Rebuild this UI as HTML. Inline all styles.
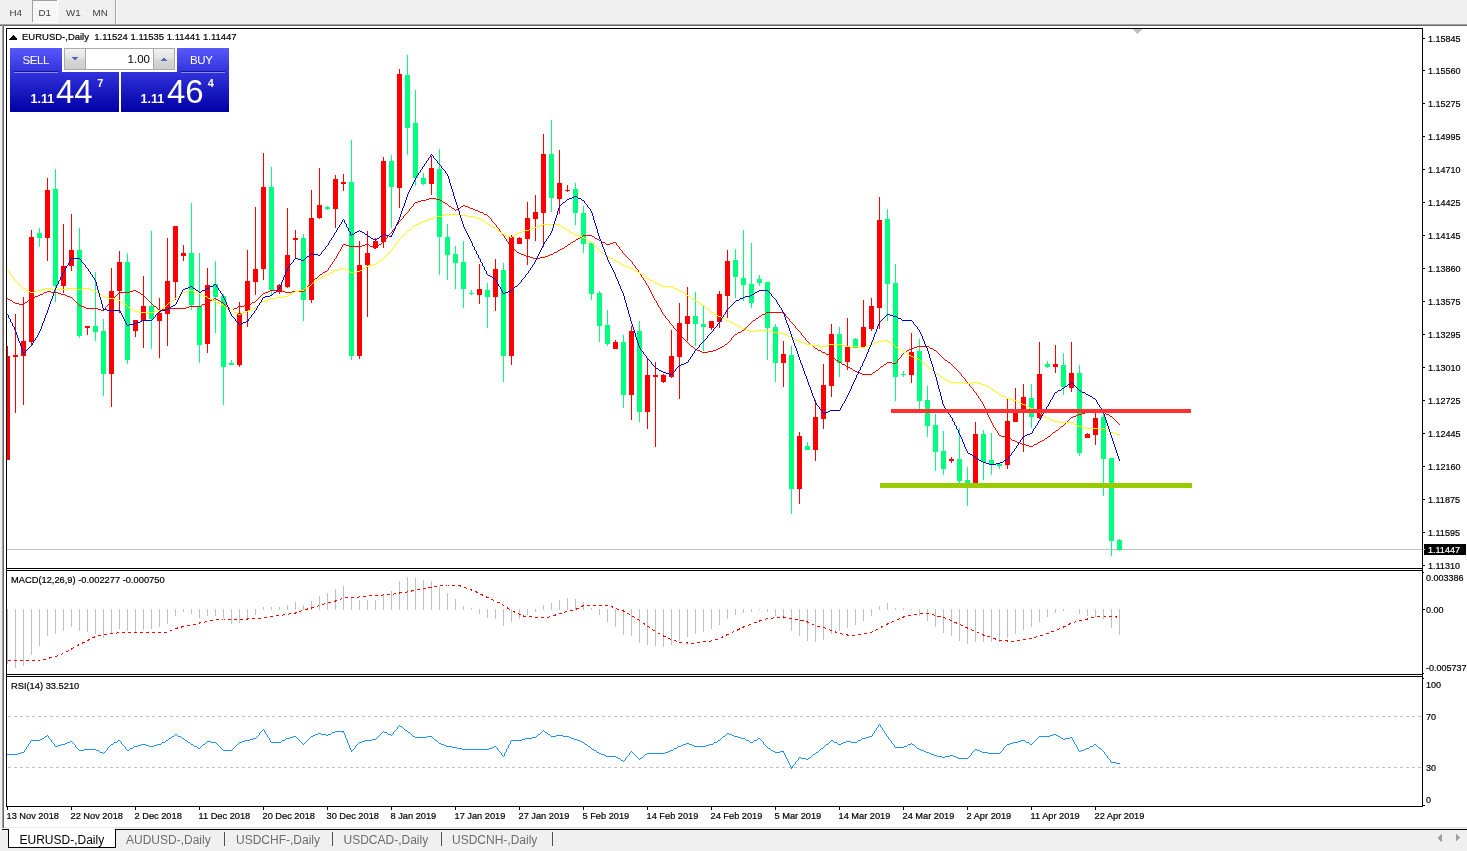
<!DOCTYPE html>
<html><head><meta charset="utf-8"><title>EURUSD-,Daily</title>
<style>
html,body{margin:0;padding:0;background:#fff;overflow:hidden}
body{width:1467px;height:851px;position:relative}
svg{position:absolute;left:0;top:0;display:block}
svg text{font-family:"Liberation Sans",sans-serif;}
.tk text{stroke-width:0.35px}
.g{shape-rendering:crispEdges}
</style></head><body>
<svg width="1467" height="851" viewBox="0 0 1467 851">
<g class="g">
<rect x="0" y="0" width="1467" height="24" fill="#f0f0f0"/>
<rect x="0" y="24" width="2" height="827" fill="#f0f0f0"/>
<rect x="0" y="24" width="1467" height="1" fill="#a0a0a0"/>
<rect x="0" y="25" width="1467" height="1" fill="#696969"/>
<rect x="2" y="24" width="1" height="804" fill="#a0a0a0"/>
<rect x="3" y="25" width="1" height="803" fill="#696969"/>
<pattern id="ck" width="2" height="2" patternUnits="userSpaceOnUse"><rect width="2" height="2" fill="#f0f0f0"/><rect width="1" height="1" fill="#fff"/><rect x="1" y="1" width="1" height="1" fill="#fff"/></pattern>
<rect x="33" y="1" width="24" height="21" fill="url(#ck)"/>
<rect x="32" y="0" width="25" height="1" fill="#a0a0a0"/>
<rect x="32" y="0" width="1" height="22" fill="#a0a0a0"/>
<rect x="33" y="22" width="24" height="1" fill="#ffffff"/>
<rect x="57" y="0" width="1" height="23" fill="#ffffff"/>
<rect x="115" y="0" width="1" height="24" fill="#a0a0a0"/>
<rect x="116" y="0" width="1" height="24" fill="#ffffff"/>
<rect x="0" y="828" width="1467" height="23" fill="#f0f0f0"/>
<rect x="4" y="827" width="1463" height="1" fill="#e3e3e3"/>
<rect x="2" y="829" width="1465" height="1" fill="#000000"/>
<rect x="9" y="828" width="106" height="19" fill="#ffffff"/>
<rect x="8" y="829" width="1" height="19" fill="#000000"/>
<rect x="115" y="829" width="1" height="19" fill="#000000"/>
<rect x="8" y="847" width="108" height="1" fill="#000000"/>
<rect x="9" y="827" width="106" height="1" fill="#ececec"/>
<rect x="224" y="832" width="1" height="14" fill="#505050"/>
<rect x="332" y="832" width="1" height="14" fill="#505050"/>
<rect x="441" y="832" width="1" height="14" fill="#505050"/>
<rect x="552" y="832" width="1" height="14" fill="#505050"/>
<path d="M1441.5 834 L1441.5 841.5 L1437.5 837.75 Z" fill="#a0a0a0"/>
<path d="M1456 834 L1456 841.5 L1460 837.75 Z" fill="#a0a0a0"/>
<rect x="6" y="28" width="1417" height="1" fill="#000000"/>
<rect x="6" y="28" width="1" height="779" fill="#000000"/>
<rect x="1422" y="28" width="1" height="779" fill="#000000"/>
<rect x="6" y="568" width="1417" height="1" fill="#000000"/>
<rect x="6" y="570" width="1417" height="1" fill="#000000"/>
<rect x="6" y="674" width="1417" height="1" fill="#000000"/>
<rect x="6" y="676" width="1417" height="1" fill="#000000"/>
<rect x="6" y="806" width="1417" height="1" fill="#000000"/>
<rect x="1423" y="38" width="2" height="1" fill="#000000"/>
<rect x="1423" y="70" width="2" height="1" fill="#000000"/>
<rect x="1423" y="103" width="2" height="1" fill="#000000"/>
<rect x="1423" y="136" width="2" height="1" fill="#000000"/>
<rect x="1423" y="169" width="2" height="1" fill="#000000"/>
<rect x="1423" y="202" width="2" height="1" fill="#000000"/>
<rect x="1423" y="235" width="2" height="1" fill="#000000"/>
<rect x="1423" y="268" width="2" height="1" fill="#000000"/>
<rect x="1423" y="301" width="2" height="1" fill="#000000"/>
<rect x="1423" y="334" width="2" height="1" fill="#000000"/>
<rect x="1423" y="367" width="2" height="1" fill="#000000"/>
<rect x="1423" y="400" width="2" height="1" fill="#000000"/>
<rect x="1423" y="433" width="2" height="1" fill="#000000"/>
<rect x="1423" y="466" width="2" height="1" fill="#000000"/>
<rect x="1423" y="499" width="2" height="1" fill="#000000"/>
<rect x="1423" y="532" width="2" height="1" fill="#000000"/>
<rect x="1423" y="565" width="2" height="1" fill="#000000"/>
<rect x="1423" y="572" width="1" height="1" fill="#000000"/>
<rect x="1423" y="673" width="1" height="1" fill="#000000"/>
<rect x="1423" y="609" width="2" height="1" fill="#000000"/>
<rect x="1423" y="678" width="1" height="1" fill="#000000"/>
<rect x="1423" y="805" width="2" height="1" fill="#000000"/>
<rect x="7" y="807" width="1" height="3" fill="#000000"/>
<rect x="71" y="807" width="1" height="3" fill="#000000"/>
<rect x="135" y="807" width="1" height="3" fill="#000000"/>
<rect x="199" y="807" width="1" height="3" fill="#000000"/>
<rect x="263" y="807" width="1" height="3" fill="#000000"/>
<rect x="327" y="807" width="1" height="3" fill="#000000"/>
<rect x="391" y="807" width="1" height="3" fill="#000000"/>
<rect x="455" y="807" width="1" height="3" fill="#000000"/>
<rect x="519" y="807" width="1" height="3" fill="#000000"/>
<rect x="583" y="807" width="1" height="3" fill="#000000"/>
<rect x="647" y="807" width="1" height="3" fill="#000000"/>
<rect x="711" y="807" width="1" height="3" fill="#000000"/>
<rect x="775" y="807" width="1" height="3" fill="#000000"/>
<rect x="839" y="807" width="1" height="3" fill="#000000"/>
<rect x="903" y="807" width="1" height="3" fill="#000000"/>
<rect x="967" y="807" width="1" height="3" fill="#000000"/>
<rect x="1031" y="807" width="1" height="3" fill="#000000"/>
<rect x="1095" y="807" width="1" height="3" fill="#000000"/>
<clipPath id="c1"><rect x="7" y="29" width="1415" height="539"/></clipPath>
<g clip-path="url(#c1)">
<rect x="7" y="549" width="1415" height="1" fill="#c0c0c0"/>
<rect x="7" y="346" width="1" height="114" fill="#ff0000"/>
<rect x="5" y="356" width="5" height="104" fill="#ff0000"/>
<rect x="15" y="314" width="1" height="99" fill="#ff0000"/>
<rect x="13" y="355" width="5" height="2" fill="#ff0000"/>
<rect x="23" y="297" width="1" height="108" fill="#ff0000"/>
<rect x="21" y="341" width="5" height="15" fill="#ff0000"/>
<rect x="31" y="230" width="1" height="115" fill="#ff0000"/>
<rect x="29" y="237" width="5" height="105" fill="#ff0000"/>
<rect x="39" y="228" width="1" height="19" fill="#00ff7f"/>
<rect x="37" y="233" width="5" height="5" fill="#00ff7f"/>
<rect x="47" y="178" width="1" height="83" fill="#ff0000"/>
<rect x="45" y="190" width="5" height="48" fill="#ff0000"/>
<rect x="55" y="169" width="1" height="133" fill="#00ff7f"/>
<rect x="53" y="189" width="5" height="97" fill="#00ff7f"/>
<rect x="63" y="224" width="1" height="69" fill="#ff0000"/>
<rect x="61" y="266" width="5" height="20" fill="#ff0000"/>
<rect x="71" y="214" width="1" height="57" fill="#ff0000"/>
<rect x="69" y="250" width="5" height="16" fill="#ff0000"/>
<rect x="79" y="228" width="1" height="110" fill="#00ff7f"/>
<rect x="77" y="250" width="5" height="86" fill="#00ff7f"/>
<rect x="87" y="326" width="1" height="9" fill="#ff0000"/>
<rect x="85" y="326" width="5" height="2" fill="#ff0000"/>
<rect x="95" y="272" width="1" height="69" fill="#00ff7f"/>
<rect x="93" y="326" width="5" height="6" fill="#00ff7f"/>
<rect x="103" y="319" width="1" height="77" fill="#00ff7f"/>
<rect x="101" y="331" width="5" height="43" fill="#00ff7f"/>
<rect x="111" y="268" width="1" height="139" fill="#ff0000"/>
<rect x="109" y="291" width="5" height="83" fill="#ff0000"/>
<rect x="119" y="251" width="1" height="62" fill="#ff0000"/>
<rect x="117" y="262" width="5" height="29" fill="#ff0000"/>
<rect x="127" y="253" width="1" height="111" fill="#00ff7f"/>
<rect x="125" y="262" width="5" height="98" fill="#00ff7f"/>
<rect x="135" y="320" width="1" height="17" fill="#ff0000"/>
<rect x="133" y="320" width="5" height="11" fill="#ff0000"/>
<rect x="143" y="276" width="1" height="72" fill="#ff0000"/>
<rect x="141" y="306" width="5" height="15" fill="#ff0000"/>
<rect x="151" y="231" width="1" height="118" fill="#00ff7f"/>
<rect x="149" y="306" width="5" height="13" fill="#00ff7f"/>
<rect x="159" y="298" width="1" height="60" fill="#ff0000"/>
<rect x="157" y="313" width="5" height="8" fill="#ff0000"/>
<rect x="167" y="238" width="1" height="108" fill="#ff0000"/>
<rect x="165" y="281" width="5" height="33" fill="#ff0000"/>
<rect x="175" y="226" width="1" height="74" fill="#ff0000"/>
<rect x="173" y="226" width="5" height="56" fill="#ff0000"/>
<rect x="183" y="245" width="1" height="16" fill="#ff0000"/>
<rect x="181" y="253" width="5" height="3" fill="#ff0000"/>
<rect x="191" y="203" width="1" height="107" fill="#00ff7f"/>
<rect x="189" y="253" width="5" height="52" fill="#00ff7f"/>
<rect x="199" y="253" width="1" height="110" fill="#00ff7f"/>
<rect x="197" y="306" width="5" height="39" fill="#00ff7f"/>
<rect x="207" y="268" width="1" height="85" fill="#ff0000"/>
<rect x="205" y="285" width="5" height="59" fill="#ff0000"/>
<rect x="215" y="261" width="1" height="72" fill="#00ff7f"/>
<rect x="213" y="284" width="5" height="13" fill="#00ff7f"/>
<rect x="223" y="294" width="1" height="111" fill="#00ff7f"/>
<rect x="221" y="296" width="5" height="71" fill="#00ff7f"/>
<rect x="231" y="360" width="1" height="5" fill="#00ff7f"/>
<rect x="229" y="363" width="5" height="2" fill="#00ff7f"/>
<rect x="239" y="302" width="1" height="65" fill="#ff0000"/>
<rect x="237" y="313" width="5" height="52" fill="#ff0000"/>
<rect x="247" y="250" width="1" height="77" fill="#ff0000"/>
<rect x="245" y="281" width="5" height="30" fill="#ff0000"/>
<rect x="255" y="207" width="1" height="88" fill="#ff0000"/>
<rect x="253" y="269" width="5" height="13" fill="#ff0000"/>
<rect x="263" y="153" width="1" height="127" fill="#ff0000"/>
<rect x="261" y="187" width="5" height="82" fill="#ff0000"/>
<rect x="271" y="167" width="1" height="128" fill="#00ff7f"/>
<rect x="269" y="187" width="5" height="103" fill="#00ff7f"/>
<rect x="279" y="284" width="1" height="10" fill="#ff0000"/>
<rect x="277" y="285" width="5" height="7" fill="#ff0000"/>
<rect x="287" y="208" width="1" height="80" fill="#ff0000"/>
<rect x="285" y="255" width="5" height="32" fill="#ff0000"/>
<rect x="295" y="230" width="1" height="28" fill="#ff0000"/>
<rect x="293" y="238" width="5" height="2" fill="#ff0000"/>
<rect x="303" y="234" width="1" height="87" fill="#00ff7f"/>
<rect x="301" y="238" width="5" height="62" fill="#00ff7f"/>
<rect x="311" y="190" width="1" height="113" fill="#ff0000"/>
<rect x="309" y="218" width="5" height="82" fill="#ff0000"/>
<rect x="319" y="168" width="1" height="51" fill="#ff0000"/>
<rect x="317" y="205" width="5" height="13" fill="#ff0000"/>
<rect x="327" y="206" width="1" height="4" fill="#00ff7f"/>
<rect x="325" y="207" width="5" height="2" fill="#00ff7f"/>
<rect x="335" y="175" width="1" height="53" fill="#ff0000"/>
<rect x="333" y="179" width="5" height="30" fill="#ff0000"/>
<rect x="343" y="174" width="1" height="17" fill="#ff0000"/>
<rect x="341" y="182" width="5" height="2" fill="#ff0000"/>
<rect x="351" y="140" width="1" height="220" fill="#00ff7f"/>
<rect x="349" y="182" width="5" height="174" fill="#00ff7f"/>
<rect x="359" y="241" width="1" height="118" fill="#ff0000"/>
<rect x="357" y="265" width="5" height="91" fill="#ff0000"/>
<rect x="367" y="231" width="1" height="86" fill="#ff0000"/>
<rect x="365" y="253" width="5" height="12" fill="#ff0000"/>
<rect x="375" y="238" width="1" height="11" fill="#ff0000"/>
<rect x="373" y="241" width="5" height="7" fill="#ff0000"/>
<rect x="383" y="157" width="1" height="91" fill="#ff0000"/>
<rect x="381" y="161" width="5" height="81" fill="#ff0000"/>
<rect x="391" y="155" width="1" height="73" fill="#00ff7f"/>
<rect x="389" y="161" width="5" height="26" fill="#00ff7f"/>
<rect x="399" y="69" width="1" height="139" fill="#ff0000"/>
<rect x="397" y="74" width="5" height="114" fill="#ff0000"/>
<rect x="407" y="55" width="1" height="100" fill="#00ff7f"/>
<rect x="405" y="75" width="5" height="53" fill="#00ff7f"/>
<rect x="415" y="90" width="1" height="96" fill="#00ff7f"/>
<rect x="413" y="123" width="5" height="55" fill="#00ff7f"/>
<rect x="423" y="173" width="1" height="12" fill="#00ff7f"/>
<rect x="421" y="178" width="5" height="6" fill="#00ff7f"/>
<rect x="431" y="156" width="1" height="39" fill="#ff0000"/>
<rect x="429" y="168" width="5" height="16" fill="#ff0000"/>
<rect x="439" y="149" width="1" height="126" fill="#00ff7f"/>
<rect x="437" y="169" width="5" height="68" fill="#00ff7f"/>
<rect x="447" y="224" width="1" height="56" fill="#00ff7f"/>
<rect x="445" y="237" width="5" height="18" fill="#00ff7f"/>
<rect x="455" y="246" width="1" height="43" fill="#00ff7f"/>
<rect x="453" y="254" width="5" height="9" fill="#00ff7f"/>
<rect x="463" y="241" width="1" height="67" fill="#00ff7f"/>
<rect x="461" y="262" width="5" height="27" fill="#00ff7f"/>
<rect x="471" y="290" width="1" height="5" fill="#00ff7f"/>
<rect x="469" y="293" width="5" height="1" fill="#00ff7f"/>
<rect x="479" y="264" width="1" height="40" fill="#ff0000"/>
<rect x="477" y="289" width="5" height="6" fill="#ff0000"/>
<rect x="487" y="283" width="1" height="45" fill="#00ff7f"/>
<rect x="485" y="290" width="5" height="7" fill="#00ff7f"/>
<rect x="495" y="259" width="1" height="52" fill="#ff0000"/>
<rect x="493" y="269" width="5" height="28" fill="#ff0000"/>
<rect x="503" y="263" width="1" height="119" fill="#00ff7f"/>
<rect x="501" y="270" width="5" height="86" fill="#00ff7f"/>
<rect x="511" y="235" width="1" height="130" fill="#ff0000"/>
<rect x="509" y="237" width="5" height="119" fill="#ff0000"/>
<rect x="519" y="237" width="1" height="7" fill="#ff0000"/>
<rect x="517" y="238" width="5" height="6" fill="#ff0000"/>
<rect x="527" y="202" width="1" height="63" fill="#ff0000"/>
<rect x="525" y="218" width="5" height="21" fill="#ff0000"/>
<rect x="535" y="195" width="1" height="46" fill="#ff0000"/>
<rect x="533" y="212" width="5" height="7" fill="#ff0000"/>
<rect x="543" y="134" width="1" height="113" fill="#ff0000"/>
<rect x="541" y="154" width="5" height="59" fill="#ff0000"/>
<rect x="551" y="120" width="1" height="92" fill="#00ff7f"/>
<rect x="549" y="154" width="5" height="44" fill="#00ff7f"/>
<rect x="559" y="150" width="1" height="64" fill="#ff0000"/>
<rect x="557" y="183" width="5" height="16" fill="#ff0000"/>
<rect x="567" y="185" width="1" height="7" fill="#ff0000"/>
<rect x="565" y="190" width="5" height="1" fill="#ff0000"/>
<rect x="575" y="183" width="1" height="42" fill="#00ff7f"/>
<rect x="573" y="189" width="5" height="24" fill="#00ff7f"/>
<rect x="583" y="206" width="1" height="47" fill="#00ff7f"/>
<rect x="581" y="213" width="5" height="31" fill="#00ff7f"/>
<rect x="591" y="242" width="1" height="58" fill="#00ff7f"/>
<rect x="589" y="243" width="5" height="51" fill="#00ff7f"/>
<rect x="599" y="291" width="1" height="51" fill="#00ff7f"/>
<rect x="597" y="293" width="5" height="33" fill="#00ff7f"/>
<rect x="607" y="310" width="1" height="36" fill="#00ff7f"/>
<rect x="605" y="325" width="5" height="19" fill="#00ff7f"/>
<rect x="615" y="340" width="1" height="9" fill="#ff0000"/>
<rect x="613" y="342" width="5" height="7" fill="#ff0000"/>
<rect x="623" y="335" width="1" height="73" fill="#00ff7f"/>
<rect x="621" y="342" width="5" height="53" fill="#00ff7f"/>
<rect x="631" y="326" width="1" height="94" fill="#ff0000"/>
<rect x="629" y="331" width="5" height="64" fill="#ff0000"/>
<rect x="639" y="321" width="1" height="101" fill="#00ff7f"/>
<rect x="637" y="331" width="5" height="81" fill="#00ff7f"/>
<rect x="647" y="358" width="1" height="71" fill="#ff0000"/>
<rect x="645" y="375" width="5" height="37" fill="#ff0000"/>
<rect x="655" y="362" width="1" height="85" fill="#ff0000"/>
<rect x="653" y="375" width="5" height="2" fill="#ff0000"/>
<rect x="663" y="374" width="1" height="9" fill="#ff0000"/>
<rect x="661" y="375" width="5" height="7" fill="#ff0000"/>
<rect x="671" y="330" width="1" height="48" fill="#ff0000"/>
<rect x="669" y="356" width="5" height="21" fill="#ff0000"/>
<rect x="679" y="303" width="1" height="96" fill="#ff0000"/>
<rect x="677" y="323" width="5" height="34" fill="#ff0000"/>
<rect x="687" y="287" width="1" height="54" fill="#ff0000"/>
<rect x="685" y="316" width="5" height="8" fill="#ff0000"/>
<rect x="695" y="292" width="1" height="54" fill="#00ff7f"/>
<rect x="693" y="316" width="5" height="8" fill="#00ff7f"/>
<rect x="703" y="305" width="1" height="46" fill="#00ff7f"/>
<rect x="701" y="324" width="5" height="3" fill="#00ff7f"/>
<rect x="711" y="321" width="1" height="9" fill="#ff0000"/>
<rect x="709" y="321" width="5" height="7" fill="#ff0000"/>
<rect x="719" y="291" width="1" height="37" fill="#ff0000"/>
<rect x="717" y="294" width="5" height="28" fill="#ff0000"/>
<rect x="727" y="250" width="1" height="68" fill="#ff0000"/>
<rect x="725" y="261" width="5" height="35" fill="#ff0000"/>
<rect x="735" y="249" width="1" height="49" fill="#00ff7f"/>
<rect x="733" y="260" width="5" height="17" fill="#00ff7f"/>
<rect x="743" y="230" width="1" height="71" fill="#00ff7f"/>
<rect x="741" y="278" width="5" height="7" fill="#00ff7f"/>
<rect x="751" y="243" width="1" height="65" fill="#00ff7f"/>
<rect x="749" y="284" width="5" height="19" fill="#00ff7f"/>
<rect x="759" y="275" width="1" height="11" fill="#00ff7f"/>
<rect x="757" y="279" width="5" height="4" fill="#00ff7f"/>
<rect x="767" y="282" width="1" height="78" fill="#00ff7f"/>
<rect x="765" y="282" width="5" height="46" fill="#00ff7f"/>
<rect x="775" y="324" width="1" height="58" fill="#00ff7f"/>
<rect x="773" y="327" width="5" height="36" fill="#00ff7f"/>
<rect x="783" y="341" width="1" height="46" fill="#ff0000"/>
<rect x="781" y="354" width="5" height="9" fill="#ff0000"/>
<rect x="791" y="346" width="1" height="168" fill="#00ff7f"/>
<rect x="789" y="355" width="5" height="134" fill="#00ff7f"/>
<rect x="799" y="432" width="1" height="72" fill="#ff0000"/>
<rect x="797" y="436" width="5" height="53" fill="#ff0000"/>
<rect x="807" y="442" width="1" height="8" fill="#00ff7f"/>
<rect x="805" y="446" width="5" height="4" fill="#00ff7f"/>
<rect x="815" y="400" width="1" height="61" fill="#ff0000"/>
<rect x="813" y="417" width="5" height="33" fill="#ff0000"/>
<rect x="823" y="364" width="1" height="65" fill="#ff0000"/>
<rect x="821" y="385" width="5" height="34" fill="#ff0000"/>
<rect x="831" y="324" width="1" height="73" fill="#ff0000"/>
<rect x="829" y="334" width="5" height="52" fill="#ff0000"/>
<rect x="839" y="327" width="1" height="50" fill="#00ff7f"/>
<rect x="837" y="334" width="5" height="29" fill="#00ff7f"/>
<rect x="847" y="318" width="1" height="52" fill="#ff0000"/>
<rect x="845" y="346" width="5" height="16" fill="#ff0000"/>
<rect x="855" y="338" width="1" height="10" fill="#00ff7f"/>
<rect x="853" y="339" width="5" height="9" fill="#00ff7f"/>
<rect x="863" y="300" width="1" height="47" fill="#ff0000"/>
<rect x="861" y="327" width="5" height="20" fill="#ff0000"/>
<rect x="871" y="298" width="1" height="33" fill="#ff0000"/>
<rect x="869" y="306" width="5" height="23" fill="#ff0000"/>
<rect x="879" y="197" width="1" height="132" fill="#ff0000"/>
<rect x="877" y="220" width="5" height="88" fill="#ff0000"/>
<rect x="887" y="209" width="1" height="112" fill="#00ff7f"/>
<rect x="885" y="219" width="5" height="65" fill="#00ff7f"/>
<rect x="895" y="264" width="1" height="137" fill="#00ff7f"/>
<rect x="893" y="283" width="5" height="94" fill="#00ff7f"/>
<rect x="903" y="371" width="1" height="6" fill="#00ff7f"/>
<rect x="901" y="374" width="5" height="1" fill="#00ff7f"/>
<rect x="911" y="333" width="1" height="50" fill="#ff0000"/>
<rect x="909" y="352" width="5" height="23" fill="#ff0000"/>
<rect x="919" y="339" width="1" height="70" fill="#00ff7f"/>
<rect x="917" y="351" width="5" height="50" fill="#00ff7f"/>
<rect x="927" y="386" width="1" height="51" fill="#00ff7f"/>
<rect x="925" y="400" width="5" height="26" fill="#00ff7f"/>
<rect x="935" y="414" width="1" height="57" fill="#00ff7f"/>
<rect x="933" y="425" width="5" height="27" fill="#00ff7f"/>
<rect x="943" y="431" width="1" height="44" fill="#00ff7f"/>
<rect x="941" y="451" width="5" height="18" fill="#00ff7f"/>
<rect x="951" y="457" width="1" height="6" fill="#ff0000"/>
<rect x="949" y="459" width="5" height="2" fill="#ff0000"/>
<rect x="959" y="428" width="1" height="55" fill="#00ff7f"/>
<rect x="957" y="459" width="5" height="22" fill="#00ff7f"/>
<rect x="967" y="467" width="1" height="39" fill="#00ff7f"/>
<rect x="965" y="480" width="5" height="3" fill="#00ff7f"/>
<rect x="975" y="422" width="1" height="63" fill="#ff0000"/>
<rect x="973" y="434" width="5" height="49" fill="#ff0000"/>
<rect x="983" y="430" width="1" height="50" fill="#00ff7f"/>
<rect x="981" y="434" width="5" height="28" fill="#00ff7f"/>
<rect x="991" y="433" width="1" height="42" fill="#00ff7f"/>
<rect x="989" y="460" width="5" height="5" fill="#00ff7f"/>
<rect x="999" y="463" width="1" height="6" fill="#00ff7f"/>
<rect x="997" y="464" width="5" height="2" fill="#00ff7f"/>
<rect x="1007" y="399" width="1" height="70" fill="#ff0000"/>
<rect x="1005" y="421" width="5" height="44" fill="#ff0000"/>
<rect x="1015" y="388" width="1" height="34" fill="#ff0000"/>
<rect x="1013" y="410" width="5" height="12" fill="#ff0000"/>
<rect x="1023" y="384" width="1" height="68" fill="#ff0000"/>
<rect x="1021" y="397" width="5" height="14" fill="#ff0000"/>
<rect x="1031" y="384" width="1" height="44" fill="#00ff7f"/>
<rect x="1029" y="398" width="5" height="19" fill="#00ff7f"/>
<rect x="1039" y="342" width="1" height="77" fill="#ff0000"/>
<rect x="1037" y="374" width="5" height="44" fill="#ff0000"/>
<rect x="1047" y="361" width="1" height="7" fill="#00ff7f"/>
<rect x="1045" y="364" width="5" height="3" fill="#00ff7f"/>
<rect x="1055" y="345" width="1" height="28" fill="#ff0000"/>
<rect x="1053" y="364" width="5" height="3" fill="#ff0000"/>
<rect x="1063" y="353" width="1" height="42" fill="#00ff7f"/>
<rect x="1061" y="365" width="5" height="22" fill="#00ff7f"/>
<rect x="1071" y="342" width="1" height="50" fill="#ff0000"/>
<rect x="1069" y="373" width="5" height="15" fill="#ff0000"/>
<rect x="1079" y="365" width="1" height="91" fill="#00ff7f"/>
<rect x="1077" y="373" width="5" height="80" fill="#00ff7f"/>
<rect x="1087" y="433" width="1" height="5" fill="#ff0000"/>
<rect x="1085" y="434" width="5" height="4" fill="#ff0000"/>
<rect x="1095" y="413" width="1" height="32" fill="#ff0000"/>
<rect x="1093" y="418" width="5" height="17" fill="#ff0000"/>
<rect x="1103" y="409" width="1" height="87" fill="#00ff7f"/>
<rect x="1101" y="417" width="5" height="42" fill="#00ff7f"/>
<rect x="1111" y="458" width="1" height="98" fill="#00ff7f"/>
<rect x="1109" y="458" width="5" height="83" fill="#00ff7f"/>
<rect x="1119" y="539" width="1" height="12" fill="#00ff7f"/>
<rect x="1117" y="540" width="5" height="10" fill="#00ff7f"/>
<path d="M7 298.5h1M8 299.5h2M10 300.5h2M12 301.5h1M13 302.5h2M15 303.5h4M19 304.5h4M23 304.5h1M24 303.5h1M25 302.5h2M27 301.5h1M28 300.5h2M30 299.5h1M31 298.5h2M33 297.5h2M35 296.5h3M38 295.5h1M39 295.5h1M40 294.5h3M43 293.5h1M44 292.5h3M47 291.5h4M51 292.5h4M55 292.5h3M58 293.5h3M61 294.5h2M63 294.5h2M65 295.5h2M67 296.5h3M70 297.5h1M71 297.5h1M72 298.5h1M73 299.5h1M74 300.5h1M75 301.5h1M76 302.5h1M77 303.5h1M78 304.5h1M79 305.5h2M81 306.5h3M84 307.5h2M86 308.5h1M87 308.5h8M95 308.5h3M98 309.5h3M101 310.5h2M103.5 310v1M104.5 309v1M105.5 307v2M106.5 306v1M107.5 305v1M108.5 304v1M109.5 302v2M110.5 301v1M111 300.5h1M112 299.5h1M113 298.5h1M114 297.5h1M115 296.5h1M116 295.5h1M117 294.5h1M118 293.5h1M119 292.5h8M127 292.5h3M130 291.5h3M133 290.5h2M135 290.5h1M136 291.5h2M138 292.5h2M140 293.5h1M141 294.5h2M143 295.5h1M144 296.5h1M145 297.5h1M146 298.5h1M147 299.5h1M148 300.5h1M149 301.5h1M150 302.5h1M151 303.5h1M152 304.5h1M153 305.5h1M154 306.5h2M156 307.5h1M157 308.5h1M158 309.5h1M159 310.5h3M162 309.5h3M165 308.5h2M167 308.5h8M175 308.5h8M183 308.5h3M186 307.5h3M189 306.5h2M191 306.5h8M199 306.5h2M201 305.5h1M202 304.5h3M205 303.5h1M206 302.5h1M207 302.5h2M209 301.5h1M210 300.5h3M213 299.5h1M214 298.5h1M215 298.5h1M216 299.5h2M218 300.5h2M220 301.5h1M221 302.5h2M223 303.5h1M224 304.5h1M225 305.5h1M226 306.5h2M228 307.5h1M229 308.5h1M230 309.5h1M231 310.5h2M233 309.5h1M234 308.5h3M237 307.5h1M238 306.5h1M239 306.5h5M244 305.5h3M247 305.5h1M248 304.5h3M251 303.5h1M252 302.5h3M255 301.5h1M256 300.5h1M257 299.5h1M258 298.5h1M259 297.5h1M260 296.5h1M261 295.5h1M262 294.5h1M263 293.5h2M265 292.5h3M268 291.5h2M270 290.5h1M271 290.5h8M279 290.5h3M282 291.5h3M285 292.5h2M287 292.5h5M292 291.5h3M295 291.5h8M303.5 291v1M304.5 290v1M305.5 289v1M306.5 288v1M307.5 286v2M308.5 285v1M309.5 284v1M310.5 283v1M311 282.5h1M312 281.5h1M313 280.5h1M314 279.5h1M315 278.5h2M317 277.5h1M318 276.5h1M319 275.5h1M320 274.5h2M322 273.5h1M323 272.5h2M325 271.5h2M327.5 270v1M328.5 268v2M329.5 267v1M330.5 265v2M331.5 264v1M332.5 262v2M333.5 261v1M334.5 259v2M335.5 258v1M336.5 256v2M337.5 254v2M338.5 252v2M339.5 251v1M340.5 249v2M341.5 247v2M342.5 245v2M343 244.5h3M346 245.5h3M349 246.5h2M351 246.5h8M359 246.5h3M362 245.5h3M365 244.5h2M367 244.5h2M369 245.5h1M370 246.5h3M373 247.5h1M374 248.5h1M375 248.5h1M376 247.5h1M377 246.5h1M378 245.5h1M379 244.5h2M381 243.5h1M382 242.5h1M383.5 241v1M384.5 240v1M385.5 239v1M386.5 238v1M387.5 236v2M388.5 235v1M389.5 234v1M390.5 233v1M391.5 232v1M392.5 230v2M393.5 229v1M394.5 228v1M395.5 226v2M396.5 225v1M397.5 224v1M398.5 222v2M399.5 221v1M400.5 220v1M401.5 219v1M402.5 218v1M403.5 216v2M404.5 215v1M405.5 214v1M406.5 213v1M407.5 212v1M408.5 211v1M409.5 209v2M410.5 208v1M411.5 207v1M412.5 206v1M413.5 204v2M414.5 203v1M415 202.5h3M418 201.5h3M421 200.5h2M423 200.5h3M426 199.5h3M429 198.5h2M431 198.5h5M436 199.5h3M439 199.5h1M440 200.5h2M442 201.5h1M443 202.5h2M445 203.5h2M447 204.5h1M448 205.5h1M449 206.5h2M451 207.5h1M452 208.5h2M454 209.5h1M455 210.5h1M456 209.5h2M458 208.5h2M460 207.5h1M461 206.5h2M463 205.5h2M465 206.5h3M468 207.5h2M470 208.5h1M471 208.5h2M473 209.5h2M475 210.5h3M478 211.5h1M479 211.5h1M480 212.5h3M483 213.5h1M484 214.5h3M487.5 215v1M488.5 216v1M489.5 217v1M490.5 218v1M491.5 219v2M492.5 221v1M493.5 222v1M494.5 223v1M495.5 224v1M496.5 225v2M497.5 227v1M498.5 228v1M499.5 229v2M500.5 231v1M501.5 232v1M502.5 233v2M503.5 235v1M504.5 236v2M505.5 238v1M506.5 239v2M507.5 241v1M508.5 242v2M509.5 244v1M510.5 245v2M511 247.5h1M512 248.5h2M514 249.5h1M515 250.5h1M516 251.5h1M517 252.5h2M519 253.5h2M521 254.5h3M524 255.5h2M526 256.5h1M527 256.5h3M530 257.5h3M533 258.5h2M535 258.5h5M540 257.5h3M543 257.5h2M545 256.5h3M548 255.5h2M550 254.5h1M551 254.5h2M553 253.5h1M554 252.5h3M557 251.5h1M558 250.5h1M559 250.5h1M560 249.5h2M562 248.5h2M564 247.5h1M565 246.5h2M567 245.5h1M568 244.5h2M570 243.5h1M571 242.5h2M573 241.5h2M575 240.5h1M576 239.5h2M578 238.5h2M580 237.5h1M581 236.5h2M583 235.5h8M591 235.5h1M592 236.5h2M594 237.5h1M595 238.5h2M597 239.5h2M599 240.5h2M601 241.5h1M602 242.5h3M605 243.5h1M606 244.5h1M607 244.5h3M610 243.5h3M613 242.5h2M615.5 242v1M616.5 243v2M617.5 245v1M618.5 246v1M619.5 247v2M620.5 249v1M621.5 250v1M622.5 251v2M623 253.5h1M624 254.5h1M625 255.5h1M626 256.5h1M627 257.5h1M628 258.5h1M629 259.5h1M630 260.5h1M631.5 261v1M632.5 262v2M633.5 264v1M634.5 265v1M635.5 266v2M636.5 268v1M637.5 269v1M638.5 270v2M639.5 272v1M640.5 273v2M641.5 275v2M642.5 277v1M643.5 278v2M644.5 280v1M645.5 281v2M646.5 283v2M647.5 285v1M648.5 286v2M649.5 288v2M650.5 290v2M651.5 292v2M652.5 294v2M653.5 296v2M654.5 298v2M655.5 300v1M656.5 301v2M657.5 303v2M658.5 305v2M659.5 307v1M660.5 308v2M661.5 310v2M662.5 312v2M663.5 314v1M664.5 315v1M665.5 316v2M666.5 318v1M667.5 319v1M668.5 320v1M669.5 321v2M670.5 323v1M671.5 324v1M672.5 325v1M673.5 326v2M674.5 328v1M675.5 329v1M676.5 330v1M677.5 331v2M678.5 333v1M679 334.5h1M680 335.5h1M681 336.5h1M682 337.5h1M683 338.5h1M684 339.5h1M685 340.5h1M686 341.5h1M687 342.5h1M688 343.5h1M689 344.5h1M690 345.5h1M691 346.5h2M693 347.5h1M694 348.5h1M695 349.5h2M697 350.5h3M700 351.5h2M702 352.5h1M703 352.5h5M708 351.5h3M711 351.5h2M713 350.5h3M716 349.5h2M718 348.5h1M719 348.5h1M720 347.5h2M722 346.5h2M724 345.5h1M725 344.5h2M727.5 343v1M728.5 342v1M729.5 341v1M730.5 340v1M731.5 338v2M732.5 337v1M733.5 336v1M734.5 335v1M735 334.5h2M737 333.5h1M738 332.5h3M741 331.5h1M742 330.5h1M743 330.5h1M744 329.5h1M745 328.5h1M746 327.5h1M747 326.5h1M748 325.5h1M749 324.5h1M750 323.5h1M751 322.5h1M752 321.5h1M753 320.5h2M755 319.5h1M756 318.5h2M758 317.5h1M759 316.5h2M761 315.5h1M762 314.5h3M765 313.5h1M766 312.5h1M767 312.5h8M775 312.5h8M783.5 312v1M784.5 313v1M785.5 314v2M786.5 316v1M787.5 317v1M788.5 318v1M789.5 319v2M790.5 321v1M791.5 322v1M792.5 323v1M793.5 324v1M794.5 325v1M795.5 326v2M796.5 328v1M797.5 329v1M798.5 330v1M799.5 331v1M800.5 332v1M801.5 333v2M802.5 335v1M803.5 336v1M804.5 337v1M805.5 338v2M806.5 340v1M807 341.5h1M808 342.5h1M809 343.5h1M810 344.5h2M812 345.5h1M813 346.5h1M814 347.5h1M815 348.5h2M817 349.5h1M818 350.5h3M821 351.5h1M822 352.5h1M823 352.5h2M825 353.5h1M826 354.5h3M829 355.5h1M830 356.5h1M831 356.5h1M832 357.5h1M833 358.5h2M835 359.5h1M836 360.5h2M838 361.5h1M839 362.5h2M841 363.5h1M842 364.5h3M845 365.5h1M846 366.5h1M847 366.5h1M848 367.5h2M850 368.5h2M852 369.5h1M853 370.5h2M855 371.5h2M857 372.5h3M860 373.5h2M862 374.5h1M863 374.5h8M871 374.5h1M872 373.5h1M873 372.5h2M875 371.5h1M876 370.5h2M878 369.5h1M879 368.5h1M880 367.5h1M881 366.5h2M883 365.5h1M884 364.5h2M886 363.5h1M887 362.5h5M892 363.5h3M895.5 363v1M896.5 362v1M897.5 360v2M898.5 359v1M899.5 358v1M900.5 357v1M901.5 355v2M902.5 354v1M903 353.5h1M904 352.5h2M906 351.5h1M907 350.5h2M909 349.5h2M911 348.5h3M914 347.5h3M917 346.5h2M919 346.5h8M927 346.5h2M929 347.5h1M930 348.5h3M933 349.5h1M934 350.5h1M935 350.5h1M936 351.5h1M937 352.5h1M938 353.5h1M939 354.5h1M940 355.5h1M941 356.5h1M942 357.5h1M943 358.5h1M944 359.5h1M945 360.5h2M947 361.5h1M948 362.5h2M950 363.5h1M951 364.5h1M952 365.5h1M953 366.5h1M954 367.5h1M955 368.5h1M956 369.5h1M957 370.5h1M958 371.5h1M959.5 372v1M960.5 373v1M961.5 374v2M962.5 376v1M963.5 377v1M964.5 378v1M965.5 379v2M966.5 381v1M967.5 382v1M968.5 383v1M969.5 384v2M970.5 386v1M971.5 387v1M972.5 388v1M973.5 389v2M974.5 391v1M975.5 392v1M976.5 393v2M977.5 395v1M978.5 396v2M979.5 398v1M980.5 399v2M981.5 401v1M982.5 402v2M983.5 404v2M984.5 406v2M985.5 408v2M986.5 410v2M987.5 412v3M988.5 415v2M989.5 417v2M990.5 419v2M991.5 421v1M991.5 422v1M992.5 423v2M993.5 425v2M994.5 427v1M995.5 428v2M996.5 430v1M997.5 431v2M998.5 433v2M999 435.5h2M1001 436.5h5M1006 437.5h1M1007 437.5h1M1008 438.5h3M1011 439.5h1M1012 440.5h3M1015 441.5h2M1017 442.5h3M1020 443.5h2M1022 444.5h1M1023 444.5h3M1026 445.5h3M1029 446.5h2M1031 446.5h2M1033 445.5h1M1034 444.5h3M1037 443.5h1M1038 442.5h1M1039 442.5h1M1040 441.5h2M1042 440.5h2M1044 439.5h1M1045 438.5h2M1047 437.5h1M1048 436.5h2M1050 435.5h1M1051 434.5h1M1052 433.5h1M1053 432.5h2M1055 431.5h1M1056 430.5h2M1058 429.5h1M1059 428.5h1M1060 427.5h1M1061 426.5h2M1063 425.5h1M1064 424.5h1M1065 423.5h1M1066 422.5h1M1067 421.5h1M1068 420.5h1M1069 419.5h1M1070 418.5h1M1071 417.5h2M1073 416.5h3M1076 415.5h2M1078 414.5h1M1079 414.5h3M1082 413.5h3M1085 412.5h2M1087 412.5h5M1092 411.5h3M1095 411.5h4M1099 412.5h4M1103 412.5h2M1105 413.5h1M1106 414.5h3M1109 415.5h1M1110 416.5h1M1111 416.5h1M1112 417.5h1M1113 418.5h1M1114 419.5h1M1115 420.5h1M1116 421.5h1M1117 422.5h1M1118 423.5h1M1119 424.5h1" fill="none" stroke="#ff0000" stroke-width="1"/>
<path d="M7.5 270v1M8.5 271v1M9.5 272v2M10.5 274v1M11.5 275v1M12.5 276v1M13.5 277v2M14.5 279v1M15 280.5h1M16 281.5h1M17 282.5h1M18 283.5h1M19 284.5h1M20 285.5h1M21 286.5h1M22 287.5h1M23 288.5h2M25 289.5h1M26 290.5h3M29 291.5h1M30 292.5h1M31 292.5h3M34 291.5h3M37 290.5h2M39 290.5h3M42 289.5h3M45 288.5h2M47 288.5h5M52 289.5h3M55 289.5h8M63 289.5h4M67 288.5h4M71 288.5h5M76 289.5h3M79 289.5h4M83 288.5h4M87 288.5h2M89 289.5h2M91 290.5h3M94 291.5h1M95 291.5h1M96 292.5h2M98 293.5h1M99 294.5h2M101 295.5h2M103 296.5h3M106 297.5h3M109 298.5h2M111 298.5h3M114 299.5h3M117 300.5h2M119 300.5h1M120 301.5h1M121 302.5h2M123 303.5h1M124 304.5h2M126 305.5h1M127 306.5h1M128 307.5h2M130 308.5h2M132 309.5h1M133 310.5h2M135 311.5h4M139 312.5h4M143 312.5h8M151 312.5h3M154 311.5h3M157 310.5h2M159 310.5h1M160 309.5h1M161 308.5h2M163 307.5h1M164 306.5h2M166 305.5h1M167 304.5h1M168 303.5h1M169 302.5h2M171 301.5h1M172 300.5h2M174 299.5h1M175 298.5h1M176 297.5h1M177 296.5h2M179 295.5h1M180 294.5h2M182 293.5h1M183 292.5h3M186 291.5h3M189 290.5h2M191 290.5h2M193 291.5h2M195 292.5h3M198 293.5h1M199 293.5h1M200 294.5h3M203 295.5h1M204 296.5h3M207 297.5h1M208 298.5h3M211 299.5h1M212 300.5h3M215 301.5h1M216 302.5h3M219 303.5h1M220 304.5h3M223 305.5h1M224 306.5h2M226 307.5h1M227 308.5h2M229 309.5h2M231 310.5h2M233 311.5h1M234 312.5h3M237 313.5h1M238 314.5h1M239 314.5h2M241 313.5h2M243 312.5h3M246 311.5h1M247 311.5h1M248 310.5h3M251 309.5h1M252 308.5h3M255 307.5h1M256 306.5h2M258 305.5h1M259 304.5h1M260 303.5h1M261 302.5h2M263 301.5h2M265 300.5h3M268 299.5h2M270 298.5h1M271 298.5h5M276 297.5h3M279 297.5h4M283 296.5h4M287 296.5h1M288 295.5h2M290 294.5h2M292 293.5h1M293 292.5h2M295 291.5h4M299 290.5h4M303 290.5h1M304 289.5h1M305 288.5h2M307 287.5h1M308 286.5h2M310 285.5h1M311 284.5h1M312 283.5h1M313 282.5h2M315 281.5h1M316 280.5h2M318 279.5h1M319 278.5h2M321 277.5h1M322 276.5h3M325 275.5h1M326 274.5h1M327 274.5h2M329 273.5h1M330 272.5h3M333 271.5h1M334 270.5h1M335 270.5h3M338 269.5h3M341 268.5h2M343 268.5h2M345 269.5h1M346 270.5h3M349 271.5h1M350 272.5h1M351 272.5h5M356 271.5h3M359 271.5h1M360 270.5h2M362 269.5h1M363 268.5h2M365 267.5h2M367 266.5h3M370 265.5h3M373 264.5h2M375 264.5h1M376 263.5h1M377 262.5h2M379 261.5h1M380 260.5h2M382 259.5h1M383 258.5h1M384 257.5h1M385 256.5h1M386 255.5h1M387 254.5h1M388 253.5h1M389 252.5h1M390 251.5h1M391.5 250v1M392.5 248v2M393.5 247v1M394.5 246v1M395.5 244v2M396.5 243v1M397.5 242v1M398.5 240v2M399 239.5h1M400 238.5h1M401 237.5h1M402 236.5h1M403 235.5h1M404 234.5h1M405 233.5h1M406 232.5h1M407 231.5h1M408 230.5h2M410 229.5h1M411 228.5h1M412 227.5h1M413 226.5h2M415 225.5h1M416 224.5h3M419 223.5h1M420 222.5h3M423 221.5h2M425 220.5h3M428 219.5h2M430 218.5h1M431 218.5h3M434 217.5h3M437 216.5h2M439 216.5h3M442 215.5h3M445 214.5h2M447 214.5h8M455 214.5h5M460 215.5h3M463 215.5h4M467 216.5h4M471 216.5h3M474 217.5h3M477 218.5h2M479 218.5h1M480 219.5h2M482 220.5h2M484 221.5h1M485 222.5h2M487 223.5h1M488 224.5h2M490 225.5h1M491 226.5h2M493 227.5h2M495 228.5h1M496 229.5h1M497 230.5h2M499 231.5h1M500 232.5h2M502 233.5h1M503 234.5h2M505 235.5h2M507 236.5h3M510 237.5h1M511 237.5h1M512 236.5h2M514 235.5h1M515 234.5h2M517 233.5h2M519 232.5h3M522 231.5h3M525 230.5h2M527 230.5h2M529 229.5h2M531 228.5h3M534 227.5h1M535 227.5h2M537 226.5h3M540 225.5h2M542 224.5h1M543 224.5h8M551 224.5h8M559 224.5h1M560 225.5h1M561 226.5h2M563 227.5h1M564 228.5h2M566 229.5h1M567 230.5h2M569 231.5h1M570 232.5h3M573 233.5h1M574 234.5h1M575 234.5h2M577 235.5h2M579 236.5h3M582 237.5h1M583 237.5h1M584 238.5h2M586 239.5h1M587 240.5h2M589 241.5h2M591 242.5h1M592 243.5h1M593 244.5h1M594 245.5h1M595 246.5h1M596 247.5h1M597 248.5h1M598 249.5h1M599 250.5h1M600 251.5h1M601 252.5h2M603 253.5h1M604 254.5h2M606 255.5h1M607 256.5h2M609 257.5h1M610 258.5h3M613 259.5h1M614 260.5h1M615 260.5h1M616 261.5h2M618 262.5h2M620 263.5h1M621 264.5h2M623 265.5h2M625 266.5h3M628 267.5h2M630 268.5h1M631 268.5h2M633 269.5h1M634 270.5h3M637 271.5h1M638 272.5h1M639 272.5h1M640 273.5h1M641 274.5h2M643 275.5h1M644 276.5h2M646 277.5h1M647 278.5h2M649 279.5h1M650 280.5h3M653 281.5h1M654 282.5h1M655 282.5h2M657 283.5h1M658 284.5h3M661 285.5h1M662 286.5h1M663 286.5h8M671 286.5h2M673 287.5h1M674 288.5h3M677 289.5h1M678 290.5h1M679 290.5h1M680 291.5h2M682 292.5h2M684 293.5h1M685 294.5h2M687 295.5h1M688 296.5h2M690 297.5h1M691 298.5h2M693 299.5h2M695 300.5h1M696 301.5h2M698 302.5h2M700 303.5h1M701 304.5h2M703 305.5h1M704 306.5h1M705 307.5h1M706 308.5h2M708 309.5h1M709 310.5h1M710 311.5h1M711 312.5h2M713 313.5h1M714 314.5h3M717 315.5h1M718 316.5h1M719 316.5h2M721 317.5h1M722 318.5h3M725 319.5h1M726 320.5h1M727 320.5h2M729 321.5h1M730 322.5h3M733 323.5h1M734 324.5h1M735 324.5h2M737 325.5h1M738 326.5h3M741 327.5h1M742 328.5h1M743 328.5h2M745 329.5h2M747 330.5h3M750 331.5h1M751 331.5h4M755 330.5h4M759 330.5h8M767 330.5h3M770 331.5h3M773 332.5h2M775 332.5h5M780 333.5h3M783 333.5h1M784 334.5h3M787 335.5h1M788 336.5h3M791 337.5h1M792 338.5h3M795 339.5h1M796 340.5h3M799 341.5h2M801 342.5h3M804 343.5h2M806 344.5h1M807 344.5h5M812 345.5h3M815 345.5h4M819 346.5h4M823 346.5h3M826 345.5h3M829 344.5h2M831 344.5h8M839 344.5h3M842 345.5h3M845 346.5h2M847 346.5h8M855 346.5h5M860 347.5h3M863 347.5h2M865 346.5h3M868 345.5h2M870 344.5h1M871 344.5h2M873 343.5h2M875 342.5h3M878 341.5h1M879 341.5h4M883 340.5h4M887 340.5h1M888 341.5h1M889 342.5h2M891 343.5h1M892 344.5h2M894 345.5h1M895 346.5h1M896 347.5h2M898 348.5h2M900 349.5h1M901 350.5h2M903 351.5h1M904 352.5h2M906 353.5h1M907 354.5h2M909 355.5h2M911 356.5h2M913 357.5h2M915 358.5h3M918 359.5h1M919 359.5h1M920 360.5h1M921 361.5h1M922 362.5h2M924 363.5h1M925 364.5h1M926 365.5h1M927 366.5h1M928 367.5h1M929 368.5h2M931 369.5h1M932 370.5h2M934 371.5h1M935 372.5h1M936 373.5h1M937 374.5h2M939 375.5h1M940 376.5h2M942 377.5h1M943 378.5h2M945 379.5h1M946 380.5h3M949 381.5h1M950 382.5h1M951 382.5h8M959 382.5h5M964 383.5h3M967 383.5h4M971 382.5h4M975 382.5h3M978 383.5h3M981 384.5h2M983 384.5h2M985 385.5h1M986 386.5h3M989 387.5h1M990 388.5h1M991 388.5h1M992 389.5h1M993 390.5h2M995 391.5h1M996 392.5h2M998 393.5h1M999 394.5h2M1001 395.5h1M1002 396.5h3M1005 397.5h1M1006 398.5h1M1007 398.5h3M1010 399.5h3M1013 400.5h2M1015 400.5h2M1017 401.5h1M1018 402.5h3M1021 403.5h1M1022 404.5h1M1023 404.5h2M1025 405.5h1M1026 406.5h3M1029 407.5h1M1030 408.5h1M1031 408.5h2M1033 409.5h1M1034 410.5h3M1037 411.5h1M1038 412.5h1M1039 412.5h1M1040 413.5h1M1041 414.5h2M1043 415.5h1M1044 416.5h2M1046 417.5h1M1047 418.5h2M1049 419.5h2M1051 420.5h3M1054 421.5h1M1055 421.5h4M1059 422.5h4M1063 422.5h8M1071 422.5h2M1073 423.5h1M1074 424.5h3M1077 425.5h1M1078 426.5h1M1079 426.5h3M1082 427.5h3M1085 428.5h2M1087 428.5h8M1095 428.5h8M1103 428.5h2M1105 429.5h1M1106 430.5h3M1109 431.5h1M1110 432.5h1M1111 432.5h3M1114 433.5h3M1117 434.5h3" fill="none" stroke="#ffff00" stroke-width="1"/>
<path d="M7.5 314v1M8.5 315v3M9.5 318v1M10.5 319v3M11.5 322v1M12.5 323v3M13.5 326v1M14.5 327v3M15.5 330v2M16.5 332v3M17.5 335v3M18.5 338v3M19.5 341v2M20.5 343v3M21.5 346v3M22.5 349v3M23.5 352v1M23 353.5h1M24 352.5h1M25 351.5h1M26 350.5h1M27 349.5h1M28 348.5h1M29 347.5h1M30 346.5h1M31.5 345v1M32.5 343v2M33.5 341v2M34.5 340v1M35.5 338v2M36.5 337v1M37.5 335v2M38.5 333v2M39.5 331v2M40.5 329v2M41.5 326v3M42.5 323v3M43.5 321v2M44.5 318v3M45.5 315v3M46.5 313v2M47.5 312v1M47.5 310v2M48.5 307v3M49.5 304v3M50.5 301v3M51.5 299v2M52.5 296v3M53.5 293v3M54.5 290v3M55.5 289v1M55.5 288v1M56.5 285v3M57.5 284v1M58.5 281v3M59.5 280v1M60.5 277v3M61.5 276v1M62.5 273v3M63.5 272v1M64.5 270v2M65.5 268v2M66.5 266v2M67.5 265v1M68.5 263v2M69.5 261v2M70.5 259v2M71 258.5h8M79.5 258v1M80.5 259v1M81.5 260v2M82.5 262v1M83.5 263v1M84.5 264v1M85.5 265v2M86.5 267v1M87.5 268v1M88.5 269v2M89.5 271v1M90.5 272v2M91.5 274v1M92.5 275v2M93.5 277v1M94.5 278v2M95.5 280v2M96.5 282v4M97.5 286v4M98.5 290v3M99.5 293v4M100.5 297v3M101.5 300v4M102.5 304v4M103.5 308v1M103 309.5h4M107 310.5h4M111 310.5h8M119.5 310v1M120.5 311v2M121.5 313v2M122.5 315v2M123.5 317v2M124.5 319v2M125.5 321v2M126.5 323v2M127 325.5h2M129 324.5h5M134 323.5h1M135 323.5h2M137 322.5h3M140 321.5h2M142 320.5h1M143 320.5h8M151.5 320v1M152.5 319v1M153.5 318v1M154.5 317v1M155.5 315v2M156.5 314v1M157.5 313v1M158.5 312v1M159 311.5h2M161 310.5h5M166 309.5h1M167 309.5h1M168 308.5h2M170 307.5h1M171 306.5h2M173 305.5h2M175.5 304v1M176.5 302v2M177.5 300v2M178.5 298v2M179.5 296v2M180.5 294v2M181.5 292v2M182.5 290v2M183 289.5h2M185 288.5h3M188 287.5h2M190 286.5h1M191 286.5h1M192 287.5h1M193 288.5h2M195 289.5h1M196 290.5h2M198 291.5h1M199 292.5h2M201 291.5h1M202 290.5h3M205 289.5h1M206 288.5h1M207 288.5h2M209 287.5h1M210 286.5h3M213 285.5h1M214 284.5h1M215.5 284v1M216.5 285v2M217.5 287v1M218.5 288v2M219.5 290v1M220.5 291v2M221.5 293v1M222.5 294v2M223.5 296v2M224.5 298v2M225.5 300v2M226.5 302v3M227.5 305v2M228.5 307v3M229.5 310v2M230.5 312v2M231.5 314v1M231.5 315v1M232.5 316v1M233.5 317v1M234.5 318v1M235.5 319v2M236.5 321v1M237.5 322v1M238.5 323v1M239 324.5h2M241 323.5h2M243 322.5h3M246 321.5h1M247.5 321v1M248.5 319v2M249.5 318v1M250.5 317v1M251.5 315v2M252.5 314v1M253.5 313v1M254.5 311v2M255.5 310v1M256.5 308v2M257.5 306v2M258.5 305v1M259.5 303v2M260.5 302v1M261.5 300v2M262.5 298v2M263 297.5h2M265 296.5h5M270 295.5h1M271 295.5h1M272 294.5h1M273 293.5h1M274 292.5h2M276 291.5h1M277 290.5h1M278 289.5h1M279.5 287v2M280.5 285v2M281.5 282v3M282.5 280v2M283.5 277v3M284.5 275v2M285.5 272v3M286.5 270v2M287.5 269v1M287.5 268v1M288.5 267v1M289.5 265v2M290.5 264v1M291.5 263v1M292.5 262v1M293.5 260v2M294.5 259v1M295 258.5h3M298 259.5h3M301 260.5h2M303 260.5h1M304 259.5h1M305 258.5h1M306 257.5h1M307 256.5h2M309 255.5h1M310 254.5h1M311 253.5h2M313 254.5h5M318 255.5h1M319.5 255v1M320.5 254v1M321.5 252v2M322.5 251v1M323.5 250v1M324.5 249v1M325.5 247v2M326.5 246v1M327.5 245v1M328.5 243v2M329.5 241v2M330.5 240v1M331.5 238v2M332.5 237v1M333.5 235v2M334.5 233v2M335.5 232v1M336.5 230v2M337.5 228v2M338.5 227v1M339.5 225v2M340.5 224v1M341.5 222v2M342.5 220v2M343.5 219v1M344.5 220v3M345.5 223v1M346.5 224v3M347.5 227v1M348.5 228v3M349.5 231v1M350.5 232v3M351 235.5h1M352 234.5h2M354 233.5h1M355 232.5h2M357 231.5h2M359 230.5h1M360 231.5h2M362 232.5h2M364 233.5h1M365 234.5h2M367 235.5h1M368 236.5h2M370 237.5h1M371 238.5h2M373 239.5h2M375 240.5h1M376 239.5h1M377 238.5h2M379 237.5h1M380 236.5h2M382 235.5h1M383 234.5h3M386 235.5h3M389 236.5h2M391.5 235v2M392.5 233v2M393.5 231v2M394.5 229v2M395.5 226v3M396.5 224v2M397.5 222v2M398.5 220v2M399.5 219v1M399.5 217v2M400.5 214v3M401.5 211v3M402.5 208v3M403.5 206v2M404.5 203v3M405.5 200v3M406.5 197v3M407.5 196v1M407.5 194v2M408.5 192v2M409.5 190v2M410.5 188v2M411.5 186v2M412.5 184v2M413.5 182v2M414.5 180v2M415.5 179v1M415.5 178v1M416.5 176v2M417.5 175v1M418.5 173v2M419.5 172v1M420.5 170v2M421.5 169v1M422.5 167v2M423.5 166v1M424.5 164v2M425.5 163v1M426.5 161v2M427.5 160v1M428.5 158v2M429.5 157v1M430.5 155v2M431.5 154v1M432.5 155v1M433.5 156v2M434.5 158v1M435.5 159v1M436.5 160v1M437.5 161v2M438.5 163v1M439.5 164v1M440.5 165v1M441.5 166v2M442.5 168v1M443.5 169v1M444.5 170v1M445.5 171v2M446.5 173v1M447.5 174v2M448.5 176v3M449.5 179v4M450.5 183v3M451.5 186v3M452.5 189v3M453.5 192v4M454.5 196v3M455.5 199v1M455.5 200v2M456.5 202v3M457.5 205v3M458.5 208v3M459.5 211v4M460.5 215v3M461.5 218v3M462.5 221v3M463.5 224v1M463.5 225v2M464.5 227v2M465.5 229v2M466.5 231v2M467.5 233v2M468.5 235v2M469.5 237v2M470.5 239v2M471.5 241v1M471.5 242v1M472.5 243v3M473.5 246v1M474.5 247v3M475.5 250v1M476.5 251v3M477.5 254v1M478.5 255v3M479.5 258v1M480.5 259v3M481.5 262v1M482.5 263v3M483.5 266v1M484.5 267v3M485.5 270v1M486.5 271v3M487 274.5h1M488 275.5h2M490 276.5h2M492 277.5h1M493 278.5h2M495.5 279v1M496.5 280v2M497.5 282v2M498.5 284v2M499.5 286v1M500.5 287v2M501.5 289v2M502.5 291v2M503 293.5h2M505 292.5h3M508 291.5h2M510 290.5h1M511 290.5h1M512 289.5h1M513 288.5h1M514 287.5h1M515 286.5h2M517 285.5h1M518 284.5h1M519.5 283v1M520.5 282v1M521.5 280v2M522.5 279v1M523.5 278v1M524.5 277v1M525.5 275v2M526.5 274v1M527.5 273v1M528.5 271v2M529.5 270v1M530.5 268v2M531.5 267v1M532.5 265v2M533.5 264v1M534.5 262v2M535.5 260v2M536.5 258v2M537.5 256v2M538.5 254v2M539.5 252v2M540.5 250v2M541.5 248v2M542.5 246v2M543.5 245v1M543.5 244v1M544.5 242v2M545.5 241v1M546.5 239v2M547.5 238v1M548.5 236v2M549.5 235v1M550.5 233v2M551.5 231v2M552.5 228v3M553.5 224v4M554.5 221v3M555.5 218v3M556.5 215v3M557.5 211v4M558.5 208v3M559.5 207v1M559 206.5h1M560 205.5h1M561 204.5h1M562 203.5h1M563 202.5h2M565 201.5h1M566 200.5h1M567 199.5h2M569 198.5h3M572 197.5h2M574 196.5h1M575 196.5h2M577 197.5h1M578 198.5h3M581 199.5h1M582 200.5h1M583.5 200v1M584.5 201v2M585.5 203v1M586.5 204v1M587.5 205v2M588.5 207v1M589.5 208v1M590.5 209v2M591.5 211v2M592.5 213v3M593.5 216v4M594.5 220v3M595.5 223v3M596.5 226v3M597.5 229v4M598.5 233v3M599.5 236v1M599.5 237v2M600.5 239v2M601.5 241v3M602.5 244v3M603.5 247v2M604.5 249v3M605.5 252v3M606.5 255v2M607.5 257v1M607.5 258v2M608.5 260v2M609.5 262v2M610.5 264v2M611.5 266v2M612.5 268v2M613.5 270v2M614.5 272v2M615.5 274v1M615.5 275v2M616.5 277v2M617.5 279v2M618.5 281v3M619.5 284v2M620.5 286v3M621.5 289v2M622.5 291v2M623.5 293v1M623.5 294v2M624.5 296v4M625.5 300v3M626.5 303v4M627.5 307v3M628.5 310v4M629.5 314v3M630.5 317v4M631.5 321v1M631.5 322v2M632.5 324v3M633.5 327v3M634.5 330v3M635.5 333v4M636.5 337v3M637.5 340v3M638.5 343v3M639.5 346v1M639.5 347v1M640.5 348v2M641.5 350v1M642.5 351v1M643.5 352v2M644.5 354v1M645.5 355v1M646.5 356v2M647.5 358v1M648.5 359v1M649.5 360v1M650.5 361v1M651.5 362v2M652.5 364v1M653.5 365v1M654.5 366v1M655 367.5h1M656 368.5h2M658 369.5h1M659 370.5h2M661 371.5h2M663 372.5h3M666 373.5h3M669 374.5h2M671.5 374v1M672.5 373v1M673.5 372v1M674.5 371v1M675.5 369v2M676.5 368v1M677.5 367v1M678.5 366v1M679 365.5h2M681 364.5h3M684 363.5h2M686 362.5h1M687.5 362v1M688.5 360v2M689.5 359v1M690.5 357v2M691.5 356v1M692.5 354v2M693.5 353v1M694.5 351v2M695.5 350v1M696.5 349v1M697.5 348v1M698.5 347v1M699.5 345v2M700.5 344v1M701.5 343v1M702.5 342v1M703.5 341v1M704.5 340v1M705.5 339v1M706.5 338v1M707.5 336v2M708.5 335v1M709.5 334v1M710.5 333v1M711.5 332v1M712.5 331v1M713.5 329v2M714.5 328v1M715.5 327v1M716.5 326v1M717.5 324v2M718.5 323v1M719.5 322v1M720.5 320v2M721.5 318v2M722.5 317v1M723.5 315v2M724.5 314v1M725.5 312v2M726.5 310v2M727 309.5h1M728 308.5h1M729 307.5h1M730 306.5h1M731 305.5h1M732 304.5h1M733 303.5h1M734 302.5h1M735 301.5h1M736 300.5h3M739 299.5h1M740 298.5h3M743 297.5h2M745 296.5h5M750 295.5h1M751 295.5h1M752 294.5h2M754 293.5h1M755 292.5h2M757 291.5h2M759 290.5h8M767.5 290v1M768.5 291v1M769.5 292v1M770.5 293v1M771.5 294v2M772.5 296v1M773.5 297v1M774.5 298v1M775.5 299v1M776.5 300v2M777.5 302v2M778.5 304v1M779.5 305v2M780.5 307v1M781.5 308v2M782.5 310v2M783.5 312v2M784.5 314v3M785.5 317v3M786.5 320v3M787.5 323v2M788.5 325v3M789.5 328v3M790.5 331v3M791.5 334v1M791.5 335v2M792.5 337v3M793.5 340v3M794.5 343v3M795.5 346v2M796.5 348v3M797.5 351v3M798.5 354v3M799.5 357v1M799.5 358v2M800.5 360v3M801.5 363v2M802.5 365v3M803.5 368v3M804.5 371v3M805.5 374v2M806.5 376v3M807.5 379v1M807.5 380v2M808.5 382v3M809.5 385v2M810.5 387v3M811.5 390v3M812.5 393v3M813.5 396v2M814.5 398v3M815.5 401v1M815.5 402v1M816.5 403v2M817.5 405v1M818.5 406v1M819.5 407v2M820.5 409v1M821.5 410v1M822.5 411v2M823 413.5h2M825 412.5h3M828 411.5h2M830 410.5h1M831 410.5h8M839.5 410v1M840.5 408v2M841.5 406v2M842.5 404v2M843.5 403v1M844.5 401v2M845.5 399v2M846.5 397v2M847.5 395v2M848.5 393v2M849.5 391v2M850.5 389v2M851.5 386v3M852.5 384v2M853.5 382v2M854.5 380v2M855.5 379v1M855.5 378v1M856.5 375v3M857.5 374v1M858.5 371v3M859.5 370v1M860.5 367v3M861.5 366v1M862.5 363v3M863.5 361v2M864.5 359v2M865.5 357v2M866.5 354v3M867.5 352v2M868.5 349v3M869.5 347v2M870.5 345v2M871.5 344v1M871.5 342v2M872.5 340v2M873.5 337v3M874.5 334v3M875.5 332v2M876.5 329v3M877.5 326v3M878.5 324v2M879.5 323v1M879 322.5h1M880 321.5h1M881 320.5h1M882 319.5h1M883 318.5h1M884 317.5h1M885 316.5h1M886 315.5h1M887 314.5h3M890 315.5h3M893 316.5h2M895 316.5h2M897 317.5h1M898 318.5h3M901 319.5h1M902 320.5h1M903 320.5h8M911.5 320v1M912.5 321v1M913.5 322v2M914.5 324v1M915.5 325v1M916.5 326v1M917.5 327v2M918.5 329v1M919.5 330v2M920.5 332v2M921.5 334v2M922.5 336v3M923.5 339v2M924.5 341v3M925.5 344v2M926.5 346v2M927.5 348v1M927.5 349v2M928.5 351v3M929.5 354v4M930.5 358v3M931.5 361v3M932.5 364v3M933.5 367v4M934.5 371v3M935.5 374v1M935.5 375v2M936.5 377v4M937.5 381v4M938.5 385v4M939.5 389v3M940.5 392v4M941.5 396v4M942.5 400v4M943.5 404v1M943.5 405v1M944.5 406v2M945.5 408v1M946.5 409v2M947.5 411v1M948.5 412v2M949.5 414v1M950.5 415v2M951.5 417v1M952.5 418v3M953.5 421v1M954.5 422v3M955.5 425v1M956.5 426v3M957.5 429v1M958.5 430v3M959.5 433v2M960.5 435v2M961.5 437v2M962.5 439v3M963.5 442v2M964.5 444v3M965.5 447v2M966.5 449v2M967.5 451v1M967 452.5h1M968 453.5h2M970 454.5h2M972 455.5h1M973 456.5h2M975 457.5h1M976 458.5h2M978 459.5h1M979 460.5h2M981 461.5h2M983 462.5h3M986 463.5h3M989 464.5h2M991 464.5h5M996 463.5h3M999 463.5h1M1000 462.5h3M1003 461.5h1M1004 460.5h3M1007.5 459v1M1008.5 457v2M1009.5 456v1M1010.5 455v1M1011.5 453v2M1012.5 452v1M1013.5 451v1M1014.5 449v2M1015.5 448v1M1016.5 446v2M1017.5 445v1M1018.5 443v2M1019.5 442v1M1020.5 440v2M1021.5 439v1M1022.5 437v2M1023 436.5h2M1025 435.5h2M1027 434.5h3M1030 433.5h1M1031.5 433v1M1032.5 431v2M1033.5 429v2M1034.5 428v1M1035.5 426v2M1036.5 425v1M1037.5 423v2M1038.5 421v2M1039.5 420v1M1040.5 418v2M1041.5 416v2M1042.5 414v2M1043.5 413v1M1044.5 411v2M1045.5 409v2M1046.5 407v2M1047.5 406v1M1048.5 404v2M1049.5 402v2M1050.5 400v2M1051.5 399v1M1052.5 397v2M1053.5 395v2M1054.5 393v2M1055 392.5h2M1057 391.5h1M1058 390.5h3M1061 389.5h1M1062 388.5h1M1063 388.5h1M1064 387.5h1M1065 386.5h2M1067 385.5h1M1068 384.5h2M1070 383.5h1M1071 382.5h1M1072 383.5h1M1073 384.5h1M1074 385.5h1M1075 386.5h1M1076 387.5h1M1077 388.5h1M1078 389.5h1M1079 390.5h2M1081 391.5h1M1082 392.5h3M1085 393.5h1M1086 394.5h1M1087 394.5h1M1088 395.5h2M1090 396.5h2M1092 397.5h1M1093 398.5h2M1095.5 399v1M1096.5 400v2M1097.5 402v2M1098.5 404v1M1099.5 405v2M1100.5 407v1M1101.5 408v2M1102.5 410v2M1103.5 412v2M1104.5 414v3M1105.5 417v3M1106.5 420v3M1107.5 423v3M1108.5 426v3M1109.5 429v3M1110.5 432v3M1111.5 435v1M1111.5 436v2M1112.5 438v3M1113.5 441v3M1114.5 444v3M1115.5 447v3M1116.5 450v3M1117.5 453v3M1118.5 456v3M1119.5 459v2" fill="none" stroke="#0000d8" stroke-width="1"/>
<rect x="891" y="409" width="300" height="4" fill="#ff3333"/>
<rect x="880" y="483" width="312" height="5" fill="#99cc00"/>
<path d="M1133 29 L1142 29 L1137.5 34 Z" fill="#c0c0c0"/>
</g>
<rect x="1424" y="544" width="42" height="11" fill="#000000"/>
<rect x="1423" y="549" width="2" height="1" fill="#c0c0c0"/>
<rect x="7" y="609" width="1" height="55" fill="#c0c0c0"/>
<rect x="15" y="609" width="1" height="59" fill="#c0c0c0"/>
<rect x="23" y="609" width="1" height="57" fill="#c0c0c0"/>
<rect x="31" y="609" width="1" height="46" fill="#c0c0c0"/>
<rect x="39" y="609" width="1" height="37" fill="#c0c0c0"/>
<rect x="47" y="609" width="1" height="27" fill="#c0c0c0"/>
<rect x="55" y="609" width="1" height="25" fill="#c0c0c0"/>
<rect x="63" y="609" width="1" height="22" fill="#c0c0c0"/>
<rect x="71" y="609" width="1" height="18" fill="#c0c0c0"/>
<rect x="79" y="609" width="1" height="22" fill="#c0c0c0"/>
<rect x="87" y="609" width="1" height="23" fill="#c0c0c0"/>
<rect x="95" y="609" width="1" height="25" fill="#c0c0c0"/>
<rect x="103" y="609" width="1" height="29" fill="#c0c0c0"/>
<rect x="111" y="609" width="1" height="24" fill="#c0c0c0"/>
<rect x="119" y="609" width="1" height="20" fill="#c0c0c0"/>
<rect x="127" y="609" width="1" height="22" fill="#c0c0c0"/>
<rect x="135" y="609" width="1" height="23" fill="#c0c0c0"/>
<rect x="143" y="609" width="1" height="21" fill="#c0c0c0"/>
<rect x="151" y="609" width="1" height="20" fill="#c0c0c0"/>
<rect x="159" y="609" width="1" height="18" fill="#c0c0c0"/>
<rect x="167" y="609" width="1" height="15" fill="#c0c0c0"/>
<rect x="175" y="609" width="1" height="7" fill="#c0c0c0"/>
<rect x="183" y="609" width="1" height="3" fill="#c0c0c0"/>
<rect x="191" y="609" width="1" height="5" fill="#c0c0c0"/>
<rect x="199" y="609" width="1" height="9" fill="#c0c0c0"/>
<rect x="207" y="609" width="1" height="7" fill="#c0c0c0"/>
<rect x="215" y="609" width="1" height="7" fill="#c0c0c0"/>
<rect x="223" y="609" width="1" height="9" fill="#c0c0c0"/>
<rect x="231" y="609" width="1" height="15" fill="#c0c0c0"/>
<rect x="239" y="609" width="1" height="14" fill="#c0c0c0"/>
<rect x="247" y="609" width="1" height="9" fill="#c0c0c0"/>
<rect x="255" y="609" width="1" height="6" fill="#c0c0c0"/>
<rect x="263" y="607" width="1" height="3" fill="#c0c0c0"/>
<rect x="271" y="607" width="1" height="3" fill="#c0c0c0"/>
<rect x="279" y="607" width="1" height="3" fill="#c0c0c0"/>
<rect x="287" y="605" width="1" height="5" fill="#c0c0c0"/>
<rect x="295" y="602" width="1" height="8" fill="#c0c0c0"/>
<rect x="303" y="605" width="1" height="5" fill="#c0c0c0"/>
<rect x="311" y="601" width="1" height="9" fill="#c0c0c0"/>
<rect x="319" y="596" width="1" height="14" fill="#c0c0c0"/>
<rect x="327" y="593" width="1" height="17" fill="#c0c0c0"/>
<rect x="335" y="589" width="1" height="21" fill="#c0c0c0"/>
<rect x="343" y="586" width="1" height="24" fill="#c0c0c0"/>
<rect x="351" y="598" width="1" height="12" fill="#c0c0c0"/>
<rect x="359" y="600" width="1" height="10" fill="#c0c0c0"/>
<rect x="367" y="600" width="1" height="10" fill="#c0c0c0"/>
<rect x="375" y="600" width="1" height="10" fill="#c0c0c0"/>
<rect x="383" y="594" width="1" height="16" fill="#c0c0c0"/>
<rect x="391" y="591" width="1" height="19" fill="#c0c0c0"/>
<rect x="399" y="581" width="1" height="29" fill="#c0c0c0"/>
<rect x="407" y="577" width="1" height="33" fill="#c0c0c0"/>
<rect x="415" y="578" width="1" height="32" fill="#c0c0c0"/>
<rect x="423" y="580" width="1" height="30" fill="#c0c0c0"/>
<rect x="431" y="581" width="1" height="29" fill="#c0c0c0"/>
<rect x="439" y="587" width="1" height="23" fill="#c0c0c0"/>
<rect x="447" y="593" width="1" height="17" fill="#c0c0c0"/>
<rect x="455" y="599" width="1" height="11" fill="#c0c0c0"/>
<rect x="463" y="606" width="1" height="4" fill="#c0c0c0"/>
<rect x="471" y="608" width="1" height="2" fill="#c0c0c0"/>
<rect x="479" y="609" width="1" height="5" fill="#c0c0c0"/>
<rect x="487" y="609" width="1" height="9" fill="#c0c0c0"/>
<rect x="495" y="609" width="1" height="10" fill="#c0c0c0"/>
<rect x="503" y="609" width="1" height="17" fill="#c0c0c0"/>
<rect x="511" y="609" width="1" height="13" fill="#c0c0c0"/>
<rect x="519" y="609" width="1" height="10" fill="#c0c0c0"/>
<rect x="527" y="609" width="1" height="6" fill="#c0c0c0"/>
<rect x="535" y="609" width="1" height="3" fill="#c0c0c0"/>
<rect x="543" y="605" width="1" height="5" fill="#c0c0c0"/>
<rect x="551" y="603" width="1" height="7" fill="#c0c0c0"/>
<rect x="559" y="600" width="1" height="10" fill="#c0c0c0"/>
<rect x="567" y="598" width="1" height="12" fill="#c0c0c0"/>
<rect x="575" y="599" width="1" height="11" fill="#c0c0c0"/>
<rect x="583" y="602" width="1" height="8" fill="#c0c0c0"/>
<rect x="591" y="608" width="1" height="2" fill="#c0c0c0"/>
<rect x="599" y="609" width="1" height="6" fill="#c0c0c0"/>
<rect x="607" y="609" width="1" height="13" fill="#c0c0c0"/>
<rect x="615" y="609" width="1" height="18" fill="#c0c0c0"/>
<rect x="623" y="609" width="1" height="26" fill="#c0c0c0"/>
<rect x="631" y="609" width="1" height="27" fill="#c0c0c0"/>
<rect x="639" y="609" width="1" height="34" fill="#c0c0c0"/>
<rect x="647" y="609" width="1" height="36" fill="#c0c0c0"/>
<rect x="655" y="609" width="1" height="37" fill="#c0c0c0"/>
<rect x="663" y="609" width="1" height="38" fill="#c0c0c0"/>
<rect x="671" y="609" width="1" height="36" fill="#c0c0c0"/>
<rect x="679" y="609" width="1" height="32" fill="#c0c0c0"/>
<rect x="687" y="609" width="1" height="28" fill="#c0c0c0"/>
<rect x="695" y="609" width="1" height="25" fill="#c0c0c0"/>
<rect x="703" y="609" width="1" height="23" fill="#c0c0c0"/>
<rect x="711" y="609" width="1" height="20" fill="#c0c0c0"/>
<rect x="719" y="609" width="1" height="16" fill="#c0c0c0"/>
<rect x="727" y="609" width="1" height="10" fill="#c0c0c0"/>
<rect x="735" y="609" width="1" height="6" fill="#c0c0c0"/>
<rect x="743" y="609" width="1" height="4" fill="#c0c0c0"/>
<rect x="751" y="609" width="1" height="3" fill="#c0c0c0"/>
<rect x="759" y="609" width="1" height="1" fill="#c0c0c0"/>
<rect x="767" y="609" width="1" height="3" fill="#c0c0c0"/>
<rect x="775" y="609" width="1" height="7" fill="#c0c0c0"/>
<rect x="783" y="609" width="1" height="10" fill="#c0c0c0"/>
<rect x="791" y="609" width="1" height="22" fill="#c0c0c0"/>
<rect x="799" y="609" width="1" height="27" fill="#c0c0c0"/>
<rect x="807" y="609" width="1" height="32" fill="#c0c0c0"/>
<rect x="815" y="609" width="1" height="33" fill="#c0c0c0"/>
<rect x="823" y="609" width="1" height="31" fill="#c0c0c0"/>
<rect x="831" y="609" width="1" height="25" fill="#c0c0c0"/>
<rect x="839" y="609" width="1" height="22" fill="#c0c0c0"/>
<rect x="847" y="609" width="1" height="19" fill="#c0c0c0"/>
<rect x="855" y="609" width="1" height="16" fill="#c0c0c0"/>
<rect x="863" y="609" width="1" height="12" fill="#c0c0c0"/>
<rect x="871" y="609" width="1" height="7" fill="#c0c0c0"/>
<rect x="879" y="606" width="1" height="4" fill="#c0c0c0"/>
<rect x="887" y="603" width="1" height="7" fill="#c0c0c0"/>
<rect x="895" y="608" width="1" height="2" fill="#c0c0c0"/>
<rect x="903" y="608" width="1" height="2" fill="#c0c0c0"/>
<rect x="911" y="609" width="1" height="1" fill="#c0c0c0"/>
<rect x="919" y="609" width="1" height="7" fill="#c0c0c0"/>
<rect x="927" y="609" width="1" height="12" fill="#c0c0c0"/>
<rect x="935" y="609" width="1" height="18" fill="#c0c0c0"/>
<rect x="943" y="609" width="1" height="24" fill="#c0c0c0"/>
<rect x="951" y="609" width="1" height="27" fill="#c0c0c0"/>
<rect x="959" y="609" width="1" height="32" fill="#c0c0c0"/>
<rect x="967" y="609" width="1" height="35" fill="#c0c0c0"/>
<rect x="975" y="609" width="1" height="33" fill="#c0c0c0"/>
<rect x="983" y="609" width="1" height="33" fill="#c0c0c0"/>
<rect x="991" y="609" width="1" height="33" fill="#c0c0c0"/>
<rect x="999" y="609" width="1" height="33" fill="#c0c0c0"/>
<rect x="1007" y="609" width="1" height="29" fill="#c0c0c0"/>
<rect x="1015" y="609" width="1" height="25" fill="#c0c0c0"/>
<rect x="1023" y="609" width="1" height="21" fill="#c0c0c0"/>
<rect x="1031" y="609" width="1" height="18" fill="#c0c0c0"/>
<rect x="1039" y="609" width="1" height="13" fill="#c0c0c0"/>
<rect x="1047" y="609" width="1" height="8" fill="#c0c0c0"/>
<rect x="1055" y="609" width="1" height="4" fill="#c0c0c0"/>
<rect x="1063" y="609" width="1" height="2" fill="#c0c0c0"/>
<rect x="1079" y="609" width="1" height="5" fill="#c0c0c0"/>
<rect x="1087" y="609" width="1" height="7" fill="#c0c0c0"/>
<rect x="1095" y="609" width="1" height="8" fill="#c0c0c0"/>
<rect x="1103" y="609" width="1" height="10" fill="#c0c0c0"/>
<rect x="1111" y="609" width="1" height="19" fill="#c0c0c0"/>
<rect x="1119" y="609" width="1" height="26" fill="#c0c0c0"/>
<polyline points="7.5,660.8 15.5,660.8 23.5,660.8 31.5,660.8 39.5,660.8 47.5,658.5 55.5,656.5 63.5,653.5 71.5,649.0 79.5,644.5 87.5,640.5 95.5,636.5 103.5,635.0 111.5,633.5 119.5,632.8 127.5,632.8 135.5,632.8 143.5,632.8 151.5,632.8 159.5,632.8 167.5,632.0 175.5,628.5 183.5,626.5 191.5,625.0 199.5,623.0 207.5,621.5 215.5,620.0 223.5,619.0 231.5,619.0 239.5,619.0 247.5,619.0 255.5,618.5 263.5,618.0 271.5,616.5 279.5,615.5 287.5,614.3 295.5,613.0 303.5,610.0 311.5,608.0 319.5,605.5 327.5,603.0 335.5,601.0 343.5,598.0 351.5,597.3 359.5,597.0 367.5,596.0 375.5,595.8 383.5,595.0 391.5,594.5 399.5,593.0 407.5,592.0 415.5,590.0 423.5,588.5 431.5,587.0 439.5,585.5 447.5,585.0 455.5,585.0 460.5,586.0 467.5,588.5 475.5,591.5 483.5,595.5 491.5,599.5 499.5,603.0 507.5,608.0 515.5,612.5 523.5,616.0 531.5,617.0 539.5,617.8 547.5,617.5 555.5,615.0 563.5,612.5 567.5,611.0 575.5,609.5 583.5,605.5 591.5,605.0 599.5,605.0 607.5,605.0 611.5,606.5 615.5,608.5 623.5,611.0 631.5,615.5 639.5,620.5 647.5,626.0 655.5,631.5 663.5,636.0 671.5,639.5 679.5,642.0 687.5,643.0 695.5,643.0 703.5,642.0 711.5,641.0 719.5,638.5 727.5,634.5 735.5,631.0 743.5,627.0 751.5,624.0 759.5,621.0 767.5,618.5 775.5,617.8 783.5,617.0 791.5,618.5 799.5,620.0 807.5,622.0 815.5,625.5 823.5,627.5 831.5,630.5 839.5,633.5 847.5,635.0 855.5,635.0 863.5,634.0 871.5,632.5 879.5,628.0 887.5,624.0 895.5,620.5 903.5,617.0 911.5,615.0 919.5,614.0 927.5,613.3 935.5,615.5 943.5,617.5 951.5,620.5 959.5,624.5 967.5,628.0 975.5,631.5 983.5,635.0 991.5,637.5 999.5,640.5 1007.5,641.0 1015.5,641.0 1023.5,640.0 1031.5,638.5 1039.5,636.0 1047.5,633.5 1055.5,630.5 1063.5,627.0 1071.5,623.0 1079.5,620.5 1087.5,619.0 1095.5,616.5 1103.5,616.0 1111.5,616.0 1116.5,617.0 1119.5,619.0" fill="none" stroke="#ff0000" stroke-width="1" stroke-dasharray="3 3"/>
<line x1="8" y1="716.5" x2="1422" y2="716.5" stroke="#c0c0c0" stroke-width="1" stroke-dasharray="3 3"/>
<line x1="8" y1="767.5" x2="1422" y2="767.5" stroke="#c0c0c0" stroke-width="1" stroke-dasharray="3 3"/>
<path d="M7 754.5h8M15 754.5h3M18 753.5h3M21 752.5h2M23.5 752v1M24.5 750v2M25.5 749v1M26.5 747v2M27.5 746v1M28.5 744v2M29.5 743v1M30.5 741v2M31 740.5h8M39 740.5h1M40 739.5h2M42 738.5h2M44 737.5h1M45 736.5h2M47.5 735v1M48.5 736v2M49.5 738v1M50.5 739v1M51.5 740v2M52.5 742v1M53.5 743v1M54.5 744v2M55 746.5h3M58 745.5h3M61 744.5h2M63 744.5h2M65 743.5h2M67 742.5h3M70 741.5h1M71.5 741v1M72.5 742v1M73.5 743v1M74.5 744v1M75.5 745v2M76.5 747v1M77.5 748v1M78.5 749v1M79 750.5h5M84 749.5h3M87 749.5h8M95 749.5h1M96 750.5h3M99 751.5h1M100 752.5h3M103.5 753v1M104.5 752v1M105.5 751v1M106.5 750v1M107.5 748v2M108.5 747v1M109.5 746v1M110.5 745v1M111 744.5h2M113 743.5h1M114 742.5h3M117 741.5h1M118 740.5h1M119.5 740v1M120.5 741v1M121.5 742v2M122.5 744v1M123.5 745v1M124.5 746v1M125.5 747v2M126.5 749v1M127 750.5h2M129 749.5h1M130 748.5h3M133 747.5h1M134 746.5h1M135 746.5h3M138 745.5h3M141 744.5h2M143 744.5h3M146 745.5h3M149 746.5h2M151 746.5h3M154 745.5h3M157 744.5h2M159 744.5h2M161 743.5h1M162 742.5h3M165 741.5h1M166 740.5h1M167 740.5h1M168 739.5h1M169 738.5h2M171 737.5h1M172 736.5h2M174 735.5h1M175 734.5h2M177 735.5h1M178 736.5h3M181 737.5h1M182 738.5h1M183 738.5h1M184 739.5h1M185 740.5h2M187 741.5h1M188 742.5h2M190 743.5h1M191 744.5h2M193 745.5h1M194 746.5h3M197 747.5h1M198 748.5h1M199 748.5h1M200 747.5h1M201 746.5h1M202 745.5h1M203 744.5h2M205 743.5h1M206 742.5h1M207 741.5h4M211 742.5h4M215 742.5h1M216 743.5h1M217 744.5h1M218 745.5h1M219 746.5h1M220 747.5h1M221 748.5h1M222 749.5h1M223 750.5h8M231 750.5h1M232 749.5h1M233 748.5h1M234 747.5h1M235 746.5h1M236 745.5h1M237 744.5h1M238 743.5h1M239 742.5h3M242 741.5h3M245 740.5h2M247 740.5h3M250 739.5h3M253 738.5h2M255.5 738v1M256.5 737v1M257.5 736v1M258.5 735v1M259.5 733v2M260.5 732v1M261.5 731v1M262.5 730v1M263.5 729v1M264.5 730v2M265.5 732v2M266.5 734v1M267.5 735v2M268.5 737v1M269.5 738v2M270.5 740v2M271 742.5h8M279 742.5h2M281 741.5h1M282 740.5h3M285 739.5h1M286 738.5h1M287 738.5h3M290 737.5h3M293 736.5h2M295 736.5h1M296 737.5h1M297 738.5h1M298 739.5h1M299 740.5h1M300 741.5h1M301 742.5h1M302 743.5h1M303 744.5h1M304 743.5h1M305 742.5h1M306 741.5h1M307 740.5h1M308 739.5h1M309 738.5h1M310 737.5h1M311 736.5h2M313 735.5h2M315 734.5h3M318 733.5h1M319 733.5h2M321 734.5h5M326 735.5h1M327 735.5h1M328 734.5h3M331 733.5h1M332 732.5h3M335 731.5h8M343.5 731v2M344.5 733v2M345.5 735v3M346.5 738v2M347.5 740v3M348.5 743v2M349.5 745v3M350.5 748v2M351.5 750v1M351.5 751v1M352.5 750v1M353.5 749v1M354.5 748v1M355.5 746v2M356.5 745v1M357.5 744v1M358.5 743v1M359 742.5h3M362 741.5h3M365 740.5h2M367 740.5h5M372 739.5h3M375 739.5h1M376 738.5h1M377 737.5h1M378 736.5h1M379 735.5h1M380 734.5h1M381 733.5h1M382 732.5h1M383 731.5h1M384 732.5h3M387 733.5h1M388 734.5h3M391.5 735v1M392.5 734v1M393.5 732v2M394.5 731v1M395.5 730v1M396.5 729v1M397.5 727v2M398.5 726v1M399 725.5h1M400 726.5h2M402 727.5h1M403 728.5h1M404 729.5h1M405 730.5h2M407 731.5h1M408 732.5h2M410 733.5h1M411 734.5h1M412 735.5h1M413 736.5h2M415 737.5h8M423 737.5h4M427 736.5h4M431 736.5h1M432 737.5h1M433 738.5h1M434 739.5h1M435 740.5h2M437 741.5h1M438 742.5h1M439 743.5h2M441 744.5h3M444 745.5h2M446 746.5h1M447 746.5h5M452 747.5h3M455 747.5h2M457 748.5h5M462 749.5h1M463 749.5h8M471 749.5h8M479 749.5h8M487 749.5h2M489 748.5h3M492 747.5h2M494 746.5h1M495.5 746v1M496.5 747v1M497.5 748v2M498.5 750v1M499.5 751v1M500.5 752v1M501.5 753v2M502.5 755v1M503.5 756v1M504.5 753v3M505.5 752v1M506.5 749v3M507.5 748v1M508.5 745v3M509.5 744v1M510.5 741v3M511 740.5h8M519 740.5h3M522 739.5h3M525 738.5h2M527 738.5h5M532 737.5h3M535 737.5h1M536 736.5h1M537 735.5h1M538 734.5h2M540 733.5h1M541 732.5h1M542 731.5h1M543 730.5h1M544 731.5h1M545 732.5h2M547 733.5h1M548 734.5h2M550 735.5h1M551 736.5h5M556 735.5h3M559 735.5h4M563 736.5h4M567 736.5h2M569 737.5h2M571 738.5h3M574 739.5h1M575 739.5h2M577 740.5h3M580 741.5h2M582 742.5h1M583 742.5h1M584 743.5h1M585 744.5h2M587 745.5h1M588 746.5h2M590 747.5h1M591 748.5h1M592 749.5h2M594 750.5h2M596 751.5h1M597 752.5h2M599 753.5h2M601 754.5h3M604 755.5h2M606 756.5h1M607 756.5h8M615 756.5h1M616 757.5h2M618 758.5h2M620 759.5h1M621 760.5h2M623.5 761v1M624.5 760v1M625.5 758v2M626.5 757v1M627.5 756v1M628.5 755v1M629.5 753v2M630.5 752v1M631 751.5h1M632 752.5h1M633 753.5h1M634 754.5h1M635 755.5h1M636 756.5h1M637 757.5h1M638 758.5h1M639 759.5h1M640 758.5h2M642 757.5h1M643 756.5h1M644 755.5h1M645 754.5h2M647 753.5h8M655 753.5h8M663 753.5h2M665 752.5h3M668 751.5h2M670 750.5h1M671 750.5h2M673 749.5h1M674 748.5h3M677 747.5h1M678 746.5h1M679 746.5h2M681 745.5h2M683 744.5h3M686 743.5h1M687 743.5h2M689 744.5h3M692 745.5h2M694 746.5h1M695 746.5h8M703 746.5h3M706 745.5h3M709 744.5h2M711 744.5h2M713 743.5h1M714 742.5h3M717 741.5h1M718 740.5h1M719 740.5h1M720 739.5h1M721 738.5h1M722 737.5h1M723 736.5h2M725 735.5h1M726 734.5h1M727 733.5h2M729 734.5h3M732 735.5h2M734 736.5h1M735 736.5h3M738 737.5h3M741 738.5h2M743 738.5h2M745 739.5h1M746 740.5h3M749 741.5h1M750 742.5h1M751 742.5h2M753 741.5h1M754 740.5h3M757 739.5h1M758 738.5h1M759.5 738v1M760.5 739v1M761.5 740v1M762.5 741v1M763.5 742v2M764.5 744v1M765.5 745v1M766.5 746v1M767 747.5h1M768 748.5h2M770 749.5h1M771 750.5h2M773 751.5h2M775 752.5h5M780 751.5h3M783.5 751v2M784.5 753v2M785.5 755v2M786.5 757v2M787.5 759v2M788.5 761v2M789.5 763v2M790.5 765v2M791.5 767v1M791.5 768v1M792.5 766v2M793.5 765v1M794.5 764v1M795.5 762v2M796.5 761v1M797.5 760v1M798.5 758v2M799 757.5h2M801 758.5h5M806 759.5h1M807 759.5h1M808 758.5h2M810 757.5h1M811 756.5h1M812 755.5h1M813 754.5h2M815 753.5h1M816 752.5h2M818 751.5h1M819 750.5h1M820 749.5h1M821 748.5h2M823 747.5h1M824 746.5h1M825 745.5h1M826 744.5h2M828 743.5h1M829 742.5h1M830 741.5h1M831 740.5h2M833 741.5h1M834 742.5h3M837 743.5h1M838 744.5h1M839 744.5h2M841 743.5h2M843 742.5h3M846 741.5h1M847 741.5h4M851 742.5h4M855 742.5h2M857 741.5h1M858 740.5h3M861 739.5h1M862 738.5h1M863 738.5h3M866 737.5h3M869 736.5h2M871.5 736v1M872.5 734v2M873.5 733v1M874.5 731v2M875.5 730v1M876.5 728v2M877.5 727v1M878.5 725v2M879.5 724v1M880.5 725v2M881.5 727v1M882.5 728v2M883.5 730v1M884.5 731v2M885.5 733v1M886.5 734v2M887.5 736v1M888.5 737v2M889.5 739v1M890.5 740v1M891.5 741v2M892.5 743v1M893.5 744v1M894.5 745v2M895 747.5h8M903 747.5h1M904 746.5h3M907 745.5h1M908 744.5h3M911 743.5h1M912 744.5h2M914 745.5h1M915 746.5h1M916 747.5h1M917 748.5h2M919 749.5h2M921 750.5h3M924 751.5h2M926 752.5h1M927 752.5h2M929 753.5h2M931 754.5h3M934 755.5h1M935 755.5h2M937 756.5h5M942 757.5h1M943 757.5h2M945 756.5h5M950 755.5h1M951 755.5h2M953 756.5h3M956 757.5h2M958 758.5h1M959 758.5h8M967.5 758v1M968.5 757v1M969.5 756v1M970.5 755v1M971.5 753v2M972.5 752v1M973.5 751v1M974.5 750v1M975 749.5h2M977 750.5h3M980 751.5h2M982 752.5h1M983 752.5h5M988 753.5h3M991 753.5h8M999.5 753v1M1000.5 752v1M1001.5 751v1M1002.5 750v1M1003.5 748v2M1004.5 747v1M1005.5 746v1M1006.5 745v1M1007 744.5h3M1010 743.5h3M1013 742.5h2M1015 742.5h3M1018 741.5h3M1021 740.5h2M1023 740.5h2M1025 741.5h1M1026 742.5h3M1029 743.5h1M1030 744.5h1M1031 744.5h1M1032 743.5h1M1033 742.5h1M1034 741.5h1M1035 740.5h1M1036 739.5h1M1037 738.5h1M1038 737.5h1M1039 736.5h8M1047 736.5h3M1050 735.5h3M1053 734.5h2M1055 734.5h1M1056 735.5h2M1058 736.5h2M1060 737.5h1M1061 738.5h2M1063 739.5h2M1065 738.5h5M1070 737.5h1M1071.5 737v1M1072.5 738v2M1073.5 740v2M1074.5 742v2M1075.5 744v1M1076.5 745v2M1077.5 747v2M1078.5 749v2M1079 751.5h2M1081 750.5h3M1084 749.5h2M1086 748.5h1M1087 748.5h2M1089 747.5h1M1090 746.5h3M1093 745.5h1M1094 744.5h1M1095 744.5h1M1096 745.5h1M1097 746.5h1M1098 747.5h1M1099 748.5h2M1101 749.5h1M1102 750.5h1M1103.5 751v1M1104.5 752v2M1105.5 754v1M1106.5 755v1M1107.5 756v2M1108.5 758v1M1109.5 759v1M1110.5 760v2M1111 762.5h5M1116 763.5h4" fill="none" stroke="#1e90ff" stroke-width="1"/>
<defs><linearGradient id="bg" gradientUnits="userSpaceOnUse" x1="0" y1="48" x2="0" y2="112"><stop offset="0" stop-color="#5858fb"/><stop offset="0.38" stop-color="#3232dc"/><stop offset="1" stop-color="#0000a5"/></linearGradient><linearGradient id="gb" x1="0" y1="0" x2="0" y2="1"><stop offset="0" stop-color="#f2f2f2"/><stop offset="0.45" stop-color="#e2e2e2"/><stop offset="0.55" stop-color="#d6d6d6"/><stop offset="1" stop-color="#cdcdcd"/></linearGradient></defs>
<rect x="10" y="48" width="52" height="25" fill="url(#bg)"/>
<rect x="10" y="72" width="109" height="40" fill="url(#bg)"/>
<rect x="177" y="48" width="52" height="25" fill="url(#bg)"/>
<rect x="121" y="72" width="108" height="40" fill="url(#bg)"/>
<rect x="14" y="71" width="44" height="1" fill="#141494"/>
<rect x="14" y="72" width="44" height="1" fill="#8c8cff"/>
<rect x="181" y="71" width="44" height="1" fill="#141494"/>
<rect x="181" y="72" width="44" height="1" fill="#8c8cff"/>
<rect x="64" y="48" width="111" height="22" fill="#a9a9a9"/>
<rect x="65" y="49" width="109" height="20" fill="#ffffff"/>
<rect x="65" y="49" width="20" height="20" fill="url(#gb)"/>
<rect x="85" y="49" width="1" height="20" fill="#a9a9a9"/>
<rect x="154" y="49" width="20" height="20" fill="url(#gb)"/>
<rect x="153" y="49" width="1" height="20" fill="#a9a9a9"/>
<path d="M72 57 L78 57 L75 60.5 Z" fill="#5566bb"/>
<path d="M161 60.5 L167 60.5 L164 57 Z" fill="#5566bb"/>
<path d="M9.5 39.5 L17.5 39.5 L13.5 35 Z" fill="#000"/>
</g>
<g>
<text transform="translate(1428,41.5) scale(0.97,1)" font-size="9.3" fill="#000" stroke="#000" stroke-width="0.2" font-weight="normal">1.15845</text>
<text transform="translate(1428,73.5) scale(0.97,1)" font-size="9.3" fill="#000" stroke="#000" stroke-width="0.2" font-weight="normal">1.15560</text>
<text transform="translate(1428,106.5) scale(0.97,1)" font-size="9.3" fill="#000" stroke="#000" stroke-width="0.2" font-weight="normal">1.15275</text>
<text transform="translate(1428,139.5) scale(0.97,1)" font-size="9.3" fill="#000" stroke="#000" stroke-width="0.2" font-weight="normal">1.14995</text>
<text transform="translate(1428,172.5) scale(0.97,1)" font-size="9.3" fill="#000" stroke="#000" stroke-width="0.2" font-weight="normal">1.14710</text>
<text transform="translate(1428,205.5) scale(0.97,1)" font-size="9.3" fill="#000" stroke="#000" stroke-width="0.2" font-weight="normal">1.14425</text>
<text transform="translate(1428,238.5) scale(0.97,1)" font-size="9.3" fill="#000" stroke="#000" stroke-width="0.2" font-weight="normal">1.14145</text>
<text transform="translate(1428,271.5) scale(0.97,1)" font-size="9.3" fill="#000" stroke="#000" stroke-width="0.2" font-weight="normal">1.13860</text>
<text transform="translate(1428,304.5) scale(0.97,1)" font-size="9.3" fill="#000" stroke="#000" stroke-width="0.2" font-weight="normal">1.13575</text>
<text transform="translate(1428,337.5) scale(0.97,1)" font-size="9.3" fill="#000" stroke="#000" stroke-width="0.2" font-weight="normal">1.13295</text>
<text transform="translate(1428,370.5) scale(0.97,1)" font-size="9.3" fill="#000" stroke="#000" stroke-width="0.2" font-weight="normal">1.13010</text>
<text transform="translate(1428,403.5) scale(0.97,1)" font-size="9.3" fill="#000" stroke="#000" stroke-width="0.2" font-weight="normal">1.12725</text>
<text transform="translate(1428,436.5) scale(0.97,1)" font-size="9.3" fill="#000" stroke="#000" stroke-width="0.2" font-weight="normal">1.12445</text>
<text transform="translate(1428,469.5) scale(0.97,1)" font-size="9.3" fill="#000" stroke="#000" stroke-width="0.2" font-weight="normal">1.12160</text>
<text transform="translate(1428,502.5) scale(0.97,1)" font-size="9.3" fill="#000" stroke="#000" stroke-width="0.2" font-weight="normal">1.11875</text>
<text transform="translate(1428,535.5) scale(0.97,1)" font-size="9.3" fill="#000" stroke="#000" stroke-width="0.2" font-weight="normal">1.11595</text>
<text transform="translate(1428,568.5) scale(0.97,1)" font-size="9.3" fill="#000" stroke="#000" stroke-width="0.2" font-weight="normal">1.11310</text>
<text transform="translate(1426,580.5) scale(0.97,1)" font-size="9.3" fill="#000" stroke="#000" stroke-width="0.2" font-weight="normal">0.003386</text>
<text transform="translate(1426,612.5) scale(0.97,1)" font-size="9.3" fill="#000" stroke="#000" stroke-width="0.2" font-weight="normal">0.00</text>
<text transform="translate(1426,670.5) scale(0.97,1)" font-size="9.3" fill="#000" stroke="#000" stroke-width="0.2" font-weight="normal">-0.005737</text>
<text transform="translate(1426,687.5) scale(0.97,1)" font-size="9.3" fill="#000" stroke="#000" stroke-width="0.2" font-weight="normal">100</text>
<text transform="translate(1426,719.5) scale(0.97,1)" font-size="9.3" fill="#000" stroke="#000" stroke-width="0.2" font-weight="normal">70</text>
<text transform="translate(1426,770.5) scale(0.97,1)" font-size="9.3" fill="#000" stroke="#000" stroke-width="0.2" font-weight="normal">30</text>
<text transform="translate(1426,802.5) scale(0.97,1)" font-size="9.3" fill="#000" stroke="#000" stroke-width="0.2" font-weight="normal">0</text>
<text transform="translate(1428,553) scale(0.97,1)" font-size="9.3" fill="#fff" stroke="#fff" stroke-width="0.2" font-weight="normal">1.11447</text>
<text transform="translate(6.5,819) scale(0.995,1)" font-size="9.3" fill="#000" stroke="#000" stroke-width="0.2" font-weight="normal">13 Nov 2018</text>
<text transform="translate(70.5,819) scale(0.995,1)" font-size="9.3" fill="#000" stroke="#000" stroke-width="0.2" font-weight="normal">22 Nov 2018</text>
<text transform="translate(134.5,819) scale(0.995,1)" font-size="9.3" fill="#000" stroke="#000" stroke-width="0.2" font-weight="normal">2 Dec 2018</text>
<text transform="translate(198.5,819) scale(0.995,1)" font-size="9.3" fill="#000" stroke="#000" stroke-width="0.2" font-weight="normal">11 Dec 2018</text>
<text transform="translate(262.5,819) scale(0.995,1)" font-size="9.3" fill="#000" stroke="#000" stroke-width="0.2" font-weight="normal">20 Dec 2018</text>
<text transform="translate(326.5,819) scale(0.995,1)" font-size="9.3" fill="#000" stroke="#000" stroke-width="0.2" font-weight="normal">30 Dec 2018</text>
<text transform="translate(390.5,819) scale(0.995,1)" font-size="9.3" fill="#000" stroke="#000" stroke-width="0.2" font-weight="normal">8 Jan 2019</text>
<text transform="translate(454.5,819) scale(0.995,1)" font-size="9.3" fill="#000" stroke="#000" stroke-width="0.2" font-weight="normal">17 Jan 2019</text>
<text transform="translate(518.5,819) scale(0.995,1)" font-size="9.3" fill="#000" stroke="#000" stroke-width="0.2" font-weight="normal">27 Jan 2019</text>
<text transform="translate(582.5,819) scale(0.995,1)" font-size="9.3" fill="#000" stroke="#000" stroke-width="0.2" font-weight="normal">5 Feb 2019</text>
<text transform="translate(646.5,819) scale(0.995,1)" font-size="9.3" fill="#000" stroke="#000" stroke-width="0.2" font-weight="normal">14 Feb 2019</text>
<text transform="translate(710.5,819) scale(0.995,1)" font-size="9.3" fill="#000" stroke="#000" stroke-width="0.2" font-weight="normal">24 Feb 2019</text>
<text transform="translate(774.5,819) scale(0.995,1)" font-size="9.3" fill="#000" stroke="#000" stroke-width="0.2" font-weight="normal">5 Mar 2019</text>
<text transform="translate(838.5,819) scale(0.995,1)" font-size="9.3" fill="#000" stroke="#000" stroke-width="0.2" font-weight="normal">14 Mar 2019</text>
<text transform="translate(902.5,819) scale(0.995,1)" font-size="9.3" fill="#000" stroke="#000" stroke-width="0.2" font-weight="normal">24 Mar 2019</text>
<text transform="translate(966.5,819) scale(0.995,1)" font-size="9.3" fill="#000" stroke="#000" stroke-width="0.2" font-weight="normal">2 Apr 2019</text>
<text transform="translate(1030.5,819) scale(0.995,1)" font-size="9.3" fill="#000" stroke="#000" stroke-width="0.2" font-weight="normal">11 Apr 2019</text>
<text transform="translate(1094.5,819) scale(0.995,1)" font-size="9.3" fill="#000" stroke="#000" stroke-width="0.2" font-weight="normal">22 Apr 2019</text>
<text transform="translate(22,39.5) scale(1.022,1)" font-size="9.3" fill="#000" stroke="#000" stroke-width="0.2" font-weight="normal">EURUSD-,Daily&#160;&#160;1.11524 1.11535 1.11441 1.11447</text>
<text transform="translate(11,583) scale(1.001,1)" font-size="9.3" fill="#000" stroke="#000" stroke-width="0.2" font-weight="normal">MACD(12,26,9) -0.002277 -0.000750</text>
<text transform="translate(11,689) scale(1.001,1)" font-size="9.3" fill="#000" stroke="#000" stroke-width="0.2" font-weight="normal">RSI(14) 33.5210</text>
<text x="9.5" y="16" font-size="9.8" fill="#404040" font-weight="normal">H4</text>
<text x="38.5" y="16" font-size="9.8" fill="#404040" font-weight="normal">D1</text>
<text x="66" y="16" font-size="9.8" fill="#404040" font-weight="normal">W1</text>
<text x="92.5" y="16" font-size="9.8" fill="#404040" font-weight="normal">MN</text>
<text x="19.5" y="843.5" font-size="12" fill="#000" font-weight="normal">EURUSD-,Daily</text>
<text x="126" y="843.5" font-size="12" fill="#6d6d6d" font-weight="normal">AUDUSD-,Daily</text>
<text x="236" y="843.5" font-size="12" fill="#6d6d6d" font-weight="normal">USDCHF-,Daily</text>
<text x="343.5" y="843.5" font-size="12" fill="#6d6d6d" font-weight="normal">USDCAD-,Daily</text>
<text x="452" y="843.5" font-size="12" fill="#6d6d6d" font-weight="normal">USDCNH-,Daily</text>
<text x="22.5" y="63.8" font-size="11.5" fill="#fff" font-weight="normal" letter-spacing="-0.4">SELL</text>
<text x="190" y="63.8" font-size="11.5" fill="#fff" font-weight="normal" letter-spacing="-0.4">BUY</text>
<text x="150" y="62.5" font-size="11.5" fill="#000" font-weight="normal" text-anchor="end">1.00</text>
<text x="30.5" y="102.8" font-size="12.5" fill="#fff" font-weight="bold">1.11</text>
<text x="56" y="102.8" font-size="33" fill="#fff" font-weight="normal">44</text>
<text x="97.3" y="86.8" font-size="11" fill="#fff" font-weight="bold">7</text>
<text x="140.5" y="102.8" font-size="12.5" fill="#fff" font-weight="bold">1.11</text>
<text x="167" y="102.8" font-size="33" fill="#fff" font-weight="normal">46</text>
<text x="207.7" y="86.8" font-size="11" fill="#fff" font-weight="bold">4</text>
</g>
</svg>
</body></html>
